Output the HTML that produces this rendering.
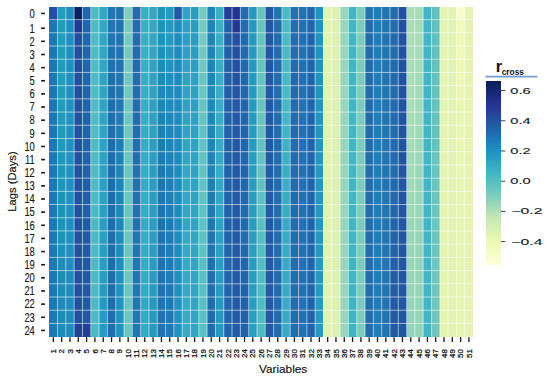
<!DOCTYPE html>
<html><head><meta charset="utf-8"><style>
html,body{margin:0;padding:0;background:#fff;}
body{width:550px;height:379px;overflow:hidden;position:relative;}
svg{position:absolute;left:0;top:0;}
text{font-family:"Liberation Sans",sans-serif;}
</style></head><body>
<svg width="550" height="379" viewBox="0 0 550 379">
<g shape-rendering="crispEdges">
<rect x="49.20" y="7.10" width="8.312" height="12.500" fill="#2350a1"/>
<rect x="49.20" y="19.60" width="8.312" height="13.210" fill="#2075b3"/>
<rect x="49.20" y="32.81" width="8.312" height="13.210" fill="#2075b3"/>
<rect x="49.20" y="46.02" width="8.312" height="13.210" fill="#2075b3"/>
<rect x="49.20" y="59.23" width="8.312" height="13.210" fill="#2075b3"/>
<rect x="49.20" y="72.44" width="8.312" height="13.210" fill="#2075b3"/>
<rect x="49.20" y="85.65" width="8.312" height="13.210" fill="#2075b3"/>
<rect x="49.20" y="98.86" width="8.312" height="13.210" fill="#2075b3"/>
<rect x="49.20" y="112.07" width="8.312" height="13.210" fill="#2075b3"/>
<rect x="49.20" y="125.28" width="8.312" height="13.210" fill="#2076b3"/>
<rect x="49.20" y="138.49" width="8.312" height="13.210" fill="#2076b3"/>
<rect x="49.20" y="151.70" width="8.312" height="13.210" fill="#1f78b4"/>
<rect x="49.20" y="164.91" width="8.312" height="13.210" fill="#1f78b4"/>
<rect x="49.20" y="178.12" width="8.312" height="13.210" fill="#1f78b4"/>
<rect x="49.20" y="191.33" width="8.312" height="13.210" fill="#1f78b4"/>
<rect x="49.20" y="204.54" width="8.312" height="13.210" fill="#1f78b4"/>
<rect x="49.20" y="217.75" width="8.312" height="13.210" fill="#1f78b4"/>
<rect x="49.20" y="230.96" width="8.312" height="13.210" fill="#1f78b4"/>
<rect x="49.20" y="244.17" width="8.312" height="13.210" fill="#1f78b4"/>
<rect x="49.20" y="257.38" width="8.312" height="13.210" fill="#1f78b4"/>
<rect x="49.20" y="270.59" width="8.312" height="13.210" fill="#1f78b4"/>
<rect x="49.20" y="283.80" width="8.312" height="13.210" fill="#1f78b4"/>
<rect x="49.20" y="297.01" width="8.312" height="13.210" fill="#1f78b4"/>
<rect x="49.20" y="310.22" width="8.312" height="13.210" fill="#1f78b4"/>
<rect x="49.20" y="323.43" width="8.312" height="13.210" fill="#1f78b4"/>
<rect x="57.51" y="7.10" width="8.312" height="12.500" fill="#259ac1"/>
<rect x="57.51" y="19.60" width="8.312" height="13.210" fill="#259ac1"/>
<rect x="57.51" y="32.81" width="8.312" height="13.210" fill="#259ac1"/>
<rect x="57.51" y="46.02" width="8.312" height="13.210" fill="#259ac1"/>
<rect x="57.51" y="59.23" width="8.312" height="13.210" fill="#259ac1"/>
<rect x="57.51" y="72.44" width="8.312" height="13.210" fill="#259ac1"/>
<rect x="57.51" y="85.65" width="8.312" height="13.210" fill="#259ac1"/>
<rect x="57.51" y="98.86" width="8.312" height="13.210" fill="#259ac1"/>
<rect x="57.51" y="112.07" width="8.312" height="13.210" fill="#2498c1"/>
<rect x="57.51" y="125.28" width="8.312" height="13.210" fill="#2397c1"/>
<rect x="57.51" y="138.49" width="8.312" height="13.210" fill="#2397c1"/>
<rect x="57.51" y="151.70" width="8.312" height="13.210" fill="#2296c1"/>
<rect x="57.51" y="164.91" width="8.312" height="13.210" fill="#2195c0"/>
<rect x="57.51" y="178.12" width="8.312" height="13.210" fill="#2094c0"/>
<rect x="57.51" y="191.33" width="8.312" height="13.210" fill="#1f93c0"/>
<rect x="57.51" y="204.54" width="8.312" height="13.210" fill="#1d91c0"/>
<rect x="57.51" y="217.75" width="8.312" height="13.210" fill="#1d91c0"/>
<rect x="57.51" y="230.96" width="8.312" height="13.210" fill="#1d90c0"/>
<rect x="57.51" y="244.17" width="8.312" height="13.210" fill="#1d8ebf"/>
<rect x="57.51" y="257.38" width="8.312" height="13.210" fill="#1d8dbe"/>
<rect x="57.51" y="270.59" width="8.312" height="13.210" fill="#1e8bbd"/>
<rect x="57.51" y="283.80" width="8.312" height="13.210" fill="#1e8abd"/>
<rect x="57.51" y="297.01" width="8.312" height="13.210" fill="#1e8abd"/>
<rect x="57.51" y="310.22" width="8.312" height="13.210" fill="#1e8abd"/>
<rect x="57.51" y="323.43" width="8.312" height="13.210" fill="#1e8abd"/>
<rect x="65.82" y="7.10" width="8.312" height="12.500" fill="#1d90c0"/>
<rect x="65.82" y="19.60" width="8.312" height="13.210" fill="#1d90c0"/>
<rect x="65.82" y="32.81" width="8.312" height="13.210" fill="#1d90c0"/>
<rect x="65.82" y="46.02" width="8.312" height="13.210" fill="#1d90c0"/>
<rect x="65.82" y="59.23" width="8.312" height="13.210" fill="#1d91c0"/>
<rect x="65.82" y="72.44" width="8.312" height="13.210" fill="#1d91c0"/>
<rect x="65.82" y="85.65" width="8.312" height="13.210" fill="#1d91c0"/>
<rect x="65.82" y="98.86" width="8.312" height="13.210" fill="#1f93c0"/>
<rect x="65.82" y="112.07" width="8.312" height="13.210" fill="#1f93c0"/>
<rect x="65.82" y="125.28" width="8.312" height="13.210" fill="#1f93c0"/>
<rect x="65.82" y="138.49" width="8.312" height="13.210" fill="#1f93c0"/>
<rect x="65.82" y="151.70" width="8.312" height="13.210" fill="#1f93c0"/>
<rect x="65.82" y="164.91" width="8.312" height="13.210" fill="#1f93c0"/>
<rect x="65.82" y="178.12" width="8.312" height="13.210" fill="#1d91c0"/>
<rect x="65.82" y="191.33" width="8.312" height="13.210" fill="#1d91c0"/>
<rect x="65.82" y="204.54" width="8.312" height="13.210" fill="#1d91c0"/>
<rect x="65.82" y="217.75" width="8.312" height="13.210" fill="#1d90c0"/>
<rect x="65.82" y="230.96" width="8.312" height="13.210" fill="#1d90c0"/>
<rect x="65.82" y="244.17" width="8.312" height="13.210" fill="#1d8ebf"/>
<rect x="65.82" y="257.38" width="8.312" height="13.210" fill="#1d8ebf"/>
<rect x="65.82" y="270.59" width="8.312" height="13.210" fill="#1d8dbe"/>
<rect x="65.82" y="283.80" width="8.312" height="13.210" fill="#1d8dbe"/>
<rect x="65.82" y="297.01" width="8.312" height="13.210" fill="#1d8dbe"/>
<rect x="65.82" y="310.22" width="8.312" height="13.210" fill="#1d8dbe"/>
<rect x="65.82" y="323.43" width="8.312" height="13.210" fill="#1d8dbe"/>
<rect x="74.14" y="7.10" width="8.312" height="12.500" fill="#0c2060"/>
<rect x="74.14" y="19.60" width="8.312" height="13.210" fill="#253795"/>
<rect x="74.14" y="32.81" width="8.312" height="13.210" fill="#234da0"/>
<rect x="74.14" y="46.02" width="8.312" height="13.210" fill="#234da0"/>
<rect x="74.14" y="59.23" width="8.312" height="13.210" fill="#234da0"/>
<rect x="74.14" y="72.44" width="8.312" height="13.210" fill="#234fa1"/>
<rect x="74.14" y="85.65" width="8.312" height="13.210" fill="#234fa1"/>
<rect x="74.14" y="98.86" width="8.312" height="13.210" fill="#2350a1"/>
<rect x="74.14" y="112.07" width="8.312" height="13.210" fill="#2350a1"/>
<rect x="74.14" y="125.28" width="8.312" height="13.210" fill="#2350a1"/>
<rect x="74.14" y="138.49" width="8.312" height="13.210" fill="#2350a1"/>
<rect x="74.14" y="151.70" width="8.312" height="13.210" fill="#2350a1"/>
<rect x="74.14" y="164.91" width="8.312" height="13.210" fill="#2350a1"/>
<rect x="74.14" y="178.12" width="8.312" height="13.210" fill="#2350a1"/>
<rect x="74.14" y="191.33" width="8.312" height="13.210" fill="#2350a1"/>
<rect x="74.14" y="204.54" width="8.312" height="13.210" fill="#2350a1"/>
<rect x="74.14" y="217.75" width="8.312" height="13.210" fill="#2350a1"/>
<rect x="74.14" y="230.96" width="8.312" height="13.210" fill="#2350a1"/>
<rect x="74.14" y="244.17" width="8.312" height="13.210" fill="#2350a1"/>
<rect x="74.14" y="257.38" width="8.312" height="13.210" fill="#2350a1"/>
<rect x="74.14" y="270.59" width="8.312" height="13.210" fill="#2350a1"/>
<rect x="74.14" y="283.80" width="8.312" height="13.210" fill="#2350a1"/>
<rect x="74.14" y="297.01" width="8.312" height="13.210" fill="#2350a1"/>
<rect x="74.14" y="310.22" width="8.312" height="13.210" fill="#2350a1"/>
<rect x="74.14" y="323.43" width="8.312" height="13.210" fill="#24419a"/>
<rect x="82.45" y="7.10" width="8.312" height="12.500" fill="#2166ac"/>
<rect x="82.45" y="19.60" width="8.312" height="13.210" fill="#2166ac"/>
<rect x="82.45" y="32.81" width="8.312" height="13.210" fill="#2166ac"/>
<rect x="82.45" y="46.02" width="8.312" height="13.210" fill="#2166ac"/>
<rect x="82.45" y="59.23" width="8.312" height="13.210" fill="#2166ac"/>
<rect x="82.45" y="72.44" width="8.312" height="13.210" fill="#2165ab"/>
<rect x="82.45" y="85.65" width="8.312" height="13.210" fill="#2165ab"/>
<rect x="82.45" y="98.86" width="8.312" height="13.210" fill="#2163aa"/>
<rect x="82.45" y="112.07" width="8.312" height="13.210" fill="#2163aa"/>
<rect x="82.45" y="125.28" width="8.312" height="13.210" fill="#2163aa"/>
<rect x="82.45" y="138.49" width="8.312" height="13.210" fill="#2262aa"/>
<rect x="82.45" y="151.70" width="8.312" height="13.210" fill="#2262aa"/>
<rect x="82.45" y="164.91" width="8.312" height="13.210" fill="#2260a9"/>
<rect x="82.45" y="178.12" width="8.312" height="13.210" fill="#225ea8"/>
<rect x="82.45" y="191.33" width="8.312" height="13.210" fill="#225ea8"/>
<rect x="82.45" y="204.54" width="8.312" height="13.210" fill="#225da8"/>
<rect x="82.45" y="217.75" width="8.312" height="13.210" fill="#225ca7"/>
<rect x="82.45" y="230.96" width="8.312" height="13.210" fill="#225aa6"/>
<rect x="82.45" y="244.17" width="8.312" height="13.210" fill="#225aa6"/>
<rect x="82.45" y="257.38" width="8.312" height="13.210" fill="#2259a6"/>
<rect x="82.45" y="270.59" width="8.312" height="13.210" fill="#2259a6"/>
<rect x="82.45" y="283.80" width="8.312" height="13.210" fill="#2258a5"/>
<rect x="82.45" y="297.01" width="8.312" height="13.210" fill="#2258a5"/>
<rect x="82.45" y="310.22" width="8.312" height="13.210" fill="#2258a5"/>
<rect x="82.45" y="323.43" width="8.312" height="13.210" fill="#243f99"/>
<rect x="90.76" y="7.10" width="8.312" height="12.500" fill="#50bbc2"/>
<rect x="90.76" y="19.60" width="8.312" height="13.210" fill="#50bbc2"/>
<rect x="90.76" y="32.81" width="8.312" height="13.210" fill="#50bbc2"/>
<rect x="90.76" y="46.02" width="8.312" height="13.210" fill="#50bbc2"/>
<rect x="90.76" y="59.23" width="8.312" height="13.210" fill="#50bbc2"/>
<rect x="90.76" y="72.44" width="8.312" height="13.210" fill="#50bbc2"/>
<rect x="90.76" y="85.65" width="8.312" height="13.210" fill="#50bbc2"/>
<rect x="90.76" y="98.86" width="8.312" height="13.210" fill="#50bbc2"/>
<rect x="90.76" y="112.07" width="8.312" height="13.210" fill="#50bbc2"/>
<rect x="90.76" y="125.28" width="8.312" height="13.210" fill="#50bbc2"/>
<rect x="90.76" y="138.49" width="8.312" height="13.210" fill="#50bbc2"/>
<rect x="90.76" y="151.70" width="8.312" height="13.210" fill="#50bbc2"/>
<rect x="90.76" y="164.91" width="8.312" height="13.210" fill="#50bbc2"/>
<rect x="90.76" y="178.12" width="8.312" height="13.210" fill="#4ebbc2"/>
<rect x="90.76" y="191.33" width="8.312" height="13.210" fill="#4ebbc2"/>
<rect x="90.76" y="204.54" width="8.312" height="13.210" fill="#4cbac2"/>
<rect x="90.76" y="217.75" width="8.312" height="13.210" fill="#4cbac2"/>
<rect x="90.76" y="230.96" width="8.312" height="13.210" fill="#4cbac2"/>
<rect x="90.76" y="244.17" width="8.312" height="13.210" fill="#4cbac2"/>
<rect x="90.76" y="257.38" width="8.312" height="13.210" fill="#4cbac2"/>
<rect x="90.76" y="270.59" width="8.312" height="13.210" fill="#4cbac2"/>
<rect x="90.76" y="283.80" width="8.312" height="13.210" fill="#4cbac2"/>
<rect x="90.76" y="297.01" width="8.312" height="13.210" fill="#4cbac2"/>
<rect x="90.76" y="310.22" width="8.312" height="13.210" fill="#4cbac2"/>
<rect x="90.76" y="323.43" width="8.312" height="13.210" fill="#4cbac2"/>
<rect x="99.07" y="7.10" width="8.312" height="12.500" fill="#32a6c2"/>
<rect x="99.07" y="19.60" width="8.312" height="13.210" fill="#32a6c2"/>
<rect x="99.07" y="32.81" width="8.312" height="13.210" fill="#32a6c2"/>
<rect x="99.07" y="46.02" width="8.312" height="13.210" fill="#31a5c2"/>
<rect x="99.07" y="59.23" width="8.312" height="13.210" fill="#31a5c2"/>
<rect x="99.07" y="72.44" width="8.312" height="13.210" fill="#2fa4c2"/>
<rect x="99.07" y="85.65" width="8.312" height="13.210" fill="#2fa4c2"/>
<rect x="99.07" y="98.86" width="8.312" height="13.210" fill="#2fa4c2"/>
<rect x="99.07" y="112.07" width="8.312" height="13.210" fill="#2ea3c2"/>
<rect x="99.07" y="125.28" width="8.312" height="13.210" fill="#2ea3c2"/>
<rect x="99.07" y="138.49" width="8.312" height="13.210" fill="#2da2c2"/>
<rect x="99.07" y="151.70" width="8.312" height="13.210" fill="#2da2c2"/>
<rect x="99.07" y="164.91" width="8.312" height="13.210" fill="#2ca1c2"/>
<rect x="99.07" y="178.12" width="8.312" height="13.210" fill="#2ca1c2"/>
<rect x="99.07" y="191.33" width="8.312" height="13.210" fill="#2ca1c2"/>
<rect x="99.07" y="204.54" width="8.312" height="13.210" fill="#2b9fc2"/>
<rect x="99.07" y="217.75" width="8.312" height="13.210" fill="#2b9fc2"/>
<rect x="99.07" y="230.96" width="8.312" height="13.210" fill="#2a9ec1"/>
<rect x="99.07" y="244.17" width="8.312" height="13.210" fill="#299dc1"/>
<rect x="99.07" y="257.38" width="8.312" height="13.210" fill="#299dc1"/>
<rect x="99.07" y="270.59" width="8.312" height="13.210" fill="#289cc1"/>
<rect x="99.07" y="283.80" width="8.312" height="13.210" fill="#269bc1"/>
<rect x="99.07" y="297.01" width="8.312" height="13.210" fill="#259ac1"/>
<rect x="99.07" y="310.22" width="8.312" height="13.210" fill="#259ac1"/>
<rect x="99.07" y="323.43" width="8.312" height="13.210" fill="#259ac1"/>
<rect x="107.38" y="7.10" width="8.312" height="12.500" fill="#1f78b4"/>
<rect x="107.38" y="19.60" width="8.312" height="13.210" fill="#2075b3"/>
<rect x="107.38" y="32.81" width="8.312" height="13.210" fill="#2075b3"/>
<rect x="107.38" y="46.02" width="8.312" height="13.210" fill="#2073b2"/>
<rect x="107.38" y="59.23" width="8.312" height="13.210" fill="#2072b1"/>
<rect x="107.38" y="72.44" width="8.312" height="13.210" fill="#2070b0"/>
<rect x="107.38" y="85.65" width="8.312" height="13.210" fill="#2070b0"/>
<rect x="107.38" y="98.86" width="8.312" height="13.210" fill="#206eb0"/>
<rect x="107.38" y="112.07" width="8.312" height="13.210" fill="#216daf"/>
<rect x="107.38" y="125.28" width="8.312" height="13.210" fill="#216daf"/>
<rect x="107.38" y="138.49" width="8.312" height="13.210" fill="#216bae"/>
<rect x="107.38" y="151.70" width="8.312" height="13.210" fill="#216bae"/>
<rect x="107.38" y="164.91" width="8.312" height="13.210" fill="#216bae"/>
<rect x="107.38" y="178.12" width="8.312" height="13.210" fill="#216bae"/>
<rect x="107.38" y="191.33" width="8.312" height="13.210" fill="#216bae"/>
<rect x="107.38" y="204.54" width="8.312" height="13.210" fill="#216bae"/>
<rect x="107.38" y="217.75" width="8.312" height="13.210" fill="#216bae"/>
<rect x="107.38" y="230.96" width="8.312" height="13.210" fill="#216bae"/>
<rect x="107.38" y="244.17" width="8.312" height="13.210" fill="#216bae"/>
<rect x="107.38" y="257.38" width="8.312" height="13.210" fill="#216bae"/>
<rect x="107.38" y="270.59" width="8.312" height="13.210" fill="#216bae"/>
<rect x="107.38" y="283.80" width="8.312" height="13.210" fill="#216bae"/>
<rect x="107.38" y="297.01" width="8.312" height="13.210" fill="#216bae"/>
<rect x="107.38" y="310.22" width="8.312" height="13.210" fill="#216bae"/>
<rect x="107.38" y="323.43" width="8.312" height="13.210" fill="#216bae"/>
<rect x="115.69" y="7.10" width="8.312" height="12.500" fill="#2072b1"/>
<rect x="115.69" y="19.60" width="8.312" height="13.210" fill="#2072b1"/>
<rect x="115.69" y="32.81" width="8.312" height="13.210" fill="#2072b1"/>
<rect x="115.69" y="46.02" width="8.312" height="13.210" fill="#2073b2"/>
<rect x="115.69" y="59.23" width="8.312" height="13.210" fill="#2073b2"/>
<rect x="115.69" y="72.44" width="8.312" height="13.210" fill="#2075b3"/>
<rect x="115.69" y="85.65" width="8.312" height="13.210" fill="#2076b3"/>
<rect x="115.69" y="98.86" width="8.312" height="13.210" fill="#1f78b4"/>
<rect x="115.69" y="112.07" width="8.312" height="13.210" fill="#1f7ab5"/>
<rect x="115.69" y="125.28" width="8.312" height="13.210" fill="#1f7db6"/>
<rect x="115.69" y="138.49" width="8.312" height="13.210" fill="#1f7eb7"/>
<rect x="115.69" y="151.70" width="8.312" height="13.210" fill="#1f80b8"/>
<rect x="115.69" y="164.91" width="8.312" height="13.210" fill="#1f82b9"/>
<rect x="115.69" y="178.12" width="8.312" height="13.210" fill="#1e83ba"/>
<rect x="115.69" y="191.33" width="8.312" height="13.210" fill="#1e85ba"/>
<rect x="115.69" y="204.54" width="8.312" height="13.210" fill="#1e86bb"/>
<rect x="115.69" y="217.75" width="8.312" height="13.210" fill="#1e88bc"/>
<rect x="115.69" y="230.96" width="8.312" height="13.210" fill="#1e8abd"/>
<rect x="115.69" y="244.17" width="8.312" height="13.210" fill="#1e8bbd"/>
<rect x="115.69" y="257.38" width="8.312" height="13.210" fill="#1d8dbe"/>
<rect x="115.69" y="270.59" width="8.312" height="13.210" fill="#1d8ebf"/>
<rect x="115.69" y="283.80" width="8.312" height="13.210" fill="#1d91c0"/>
<rect x="115.69" y="297.01" width="8.312" height="13.210" fill="#1f93c0"/>
<rect x="115.69" y="310.22" width="8.312" height="13.210" fill="#1f93c0"/>
<rect x="115.69" y="323.43" width="8.312" height="13.210" fill="#1f93c0"/>
<rect x="124.01" y="7.10" width="8.312" height="12.500" fill="#80cebb"/>
<rect x="124.01" y="19.60" width="8.312" height="13.210" fill="#78cbbc"/>
<rect x="124.01" y="32.81" width="8.312" height="13.210" fill="#78cbbc"/>
<rect x="124.01" y="46.02" width="8.312" height="13.210" fill="#76cabc"/>
<rect x="124.01" y="59.23" width="8.312" height="13.210" fill="#75c9bd"/>
<rect x="124.01" y="72.44" width="8.312" height="13.210" fill="#73c8bd"/>
<rect x="124.01" y="85.65" width="8.312" height="13.210" fill="#71c8bd"/>
<rect x="124.01" y="98.86" width="8.312" height="13.210" fill="#6fc7bd"/>
<rect x="124.01" y="112.07" width="8.312" height="13.210" fill="#6fc7bd"/>
<rect x="124.01" y="125.28" width="8.312" height="13.210" fill="#6fc7bd"/>
<rect x="124.01" y="138.49" width="8.312" height="13.210" fill="#6dc6be"/>
<rect x="124.01" y="151.70" width="8.312" height="13.210" fill="#6dc6be"/>
<rect x="124.01" y="164.91" width="8.312" height="13.210" fill="#6bc6be"/>
<rect x="124.01" y="178.12" width="8.312" height="13.210" fill="#6bc6be"/>
<rect x="124.01" y="191.33" width="8.312" height="13.210" fill="#6bc6be"/>
<rect x="124.01" y="204.54" width="8.312" height="13.210" fill="#6bc6be"/>
<rect x="124.01" y="217.75" width="8.312" height="13.210" fill="#6bc6be"/>
<rect x="124.01" y="230.96" width="8.312" height="13.210" fill="#6bc6be"/>
<rect x="124.01" y="244.17" width="8.312" height="13.210" fill="#6bc6be"/>
<rect x="124.01" y="257.38" width="8.312" height="13.210" fill="#6bc6be"/>
<rect x="124.01" y="270.59" width="8.312" height="13.210" fill="#6bc6be"/>
<rect x="124.01" y="283.80" width="8.312" height="13.210" fill="#6bc6be"/>
<rect x="124.01" y="297.01" width="8.312" height="13.210" fill="#6bc6be"/>
<rect x="124.01" y="310.22" width="8.312" height="13.210" fill="#6bc6be"/>
<rect x="124.01" y="323.43" width="8.312" height="13.210" fill="#6bc6be"/>
<rect x="132.32" y="7.10" width="8.312" height="12.500" fill="#216bae"/>
<rect x="132.32" y="19.60" width="8.312" height="13.210" fill="#216bae"/>
<rect x="132.32" y="32.81" width="8.312" height="13.210" fill="#216bae"/>
<rect x="132.32" y="46.02" width="8.312" height="13.210" fill="#216bae"/>
<rect x="132.32" y="59.23" width="8.312" height="13.210" fill="#216bae"/>
<rect x="132.32" y="72.44" width="8.312" height="13.210" fill="#216daf"/>
<rect x="132.32" y="85.65" width="8.312" height="13.210" fill="#216daf"/>
<rect x="132.32" y="98.86" width="8.312" height="13.210" fill="#206eb0"/>
<rect x="132.32" y="112.07" width="8.312" height="13.210" fill="#206eb0"/>
<rect x="132.32" y="125.28" width="8.312" height="13.210" fill="#2070b0"/>
<rect x="132.32" y="138.49" width="8.312" height="13.210" fill="#2070b0"/>
<rect x="132.32" y="151.70" width="8.312" height="13.210" fill="#2070b0"/>
<rect x="132.32" y="164.91" width="8.312" height="13.210" fill="#2072b1"/>
<rect x="132.32" y="178.12" width="8.312" height="13.210" fill="#2072b1"/>
<rect x="132.32" y="191.33" width="8.312" height="13.210" fill="#2073b2"/>
<rect x="132.32" y="204.54" width="8.312" height="13.210" fill="#2073b2"/>
<rect x="132.32" y="217.75" width="8.312" height="13.210" fill="#2073b2"/>
<rect x="132.32" y="230.96" width="8.312" height="13.210" fill="#2075b3"/>
<rect x="132.32" y="244.17" width="8.312" height="13.210" fill="#2075b3"/>
<rect x="132.32" y="257.38" width="8.312" height="13.210" fill="#2076b3"/>
<rect x="132.32" y="270.59" width="8.312" height="13.210" fill="#2076b3"/>
<rect x="132.32" y="283.80" width="8.312" height="13.210" fill="#1f78b4"/>
<rect x="132.32" y="297.01" width="8.312" height="13.210" fill="#1f78b4"/>
<rect x="132.32" y="310.22" width="8.312" height="13.210" fill="#1f78b4"/>
<rect x="132.32" y="323.43" width="8.312" height="13.210" fill="#1f78b4"/>
<rect x="140.63" y="7.10" width="8.312" height="12.500" fill="#3bb0c3"/>
<rect x="140.63" y="19.60" width="8.312" height="13.210" fill="#3bb0c3"/>
<rect x="140.63" y="32.81" width="8.312" height="13.210" fill="#3bb0c3"/>
<rect x="140.63" y="46.02" width="8.312" height="13.210" fill="#3bb0c3"/>
<rect x="140.63" y="59.23" width="8.312" height="13.210" fill="#3aaec3"/>
<rect x="140.63" y="72.44" width="8.312" height="13.210" fill="#3aaec3"/>
<rect x="140.63" y="85.65" width="8.312" height="13.210" fill="#39adc3"/>
<rect x="140.63" y="98.86" width="8.312" height="13.210" fill="#39adc3"/>
<rect x="140.63" y="112.07" width="8.312" height="13.210" fill="#39adc3"/>
<rect x="140.63" y="125.28" width="8.312" height="13.210" fill="#37acc3"/>
<rect x="140.63" y="138.49" width="8.312" height="13.210" fill="#37acc3"/>
<rect x="140.63" y="151.70" width="8.312" height="13.210" fill="#36abc3"/>
<rect x="140.63" y="164.91" width="8.312" height="13.210" fill="#36abc3"/>
<rect x="140.63" y="178.12" width="8.312" height="13.210" fill="#36abc3"/>
<rect x="140.63" y="191.33" width="8.312" height="13.210" fill="#36abc3"/>
<rect x="140.63" y="204.54" width="8.312" height="13.210" fill="#36abc3"/>
<rect x="140.63" y="217.75" width="8.312" height="13.210" fill="#36abc3"/>
<rect x="140.63" y="230.96" width="8.312" height="13.210" fill="#36abc3"/>
<rect x="140.63" y="244.17" width="8.312" height="13.210" fill="#35aac3"/>
<rect x="140.63" y="257.38" width="8.312" height="13.210" fill="#35aac3"/>
<rect x="140.63" y="270.59" width="8.312" height="13.210" fill="#35aac3"/>
<rect x="140.63" y="283.80" width="8.312" height="13.210" fill="#34a9c3"/>
<rect x="140.63" y="297.01" width="8.312" height="13.210" fill="#34a9c3"/>
<rect x="140.63" y="310.22" width="8.312" height="13.210" fill="#34a9c3"/>
<rect x="140.63" y="323.43" width="8.312" height="13.210" fill="#34a9c3"/>
<rect x="148.94" y="7.10" width="8.312" height="12.500" fill="#32a6c2"/>
<rect x="148.94" y="19.60" width="8.312" height="13.210" fill="#32a6c2"/>
<rect x="148.94" y="32.81" width="8.312" height="13.210" fill="#32a6c2"/>
<rect x="148.94" y="46.02" width="8.312" height="13.210" fill="#31a5c2"/>
<rect x="148.94" y="59.23" width="8.312" height="13.210" fill="#2fa4c2"/>
<rect x="148.94" y="72.44" width="8.312" height="13.210" fill="#2ea3c2"/>
<rect x="148.94" y="85.65" width="8.312" height="13.210" fill="#2da2c2"/>
<rect x="148.94" y="98.86" width="8.312" height="13.210" fill="#2ca1c2"/>
<rect x="148.94" y="112.07" width="8.312" height="13.210" fill="#2ca1c2"/>
<rect x="148.94" y="125.28" width="8.312" height="13.210" fill="#2ca1c2"/>
<rect x="148.94" y="138.49" width="8.312" height="13.210" fill="#2b9fc2"/>
<rect x="148.94" y="151.70" width="8.312" height="13.210" fill="#2b9fc2"/>
<rect x="148.94" y="164.91" width="8.312" height="13.210" fill="#2a9ec1"/>
<rect x="148.94" y="178.12" width="8.312" height="13.210" fill="#2a9ec1"/>
<rect x="148.94" y="191.33" width="8.312" height="13.210" fill="#2a9ec1"/>
<rect x="148.94" y="204.54" width="8.312" height="13.210" fill="#2a9ec1"/>
<rect x="148.94" y="217.75" width="8.312" height="13.210" fill="#2a9ec1"/>
<rect x="148.94" y="230.96" width="8.312" height="13.210" fill="#2a9ec1"/>
<rect x="148.94" y="244.17" width="8.312" height="13.210" fill="#299dc1"/>
<rect x="148.94" y="257.38" width="8.312" height="13.210" fill="#299dc1"/>
<rect x="148.94" y="270.59" width="8.312" height="13.210" fill="#289cc1"/>
<rect x="148.94" y="283.80" width="8.312" height="13.210" fill="#269bc1"/>
<rect x="148.94" y="297.01" width="8.312" height="13.210" fill="#259ac1"/>
<rect x="148.94" y="310.22" width="8.312" height="13.210" fill="#259ac1"/>
<rect x="148.94" y="323.43" width="8.312" height="13.210" fill="#259ac1"/>
<rect x="157.25" y="7.10" width="8.312" height="12.500" fill="#1f93c0"/>
<rect x="157.25" y="19.60" width="8.312" height="13.210" fill="#1f93c0"/>
<rect x="157.25" y="32.81" width="8.312" height="13.210" fill="#1f93c0"/>
<rect x="157.25" y="46.02" width="8.312" height="13.210" fill="#1d90c0"/>
<rect x="157.25" y="59.23" width="8.312" height="13.210" fill="#1d8dbe"/>
<rect x="157.25" y="72.44" width="8.312" height="13.210" fill="#1e8bbd"/>
<rect x="157.25" y="85.65" width="8.312" height="13.210" fill="#1e88bc"/>
<rect x="157.25" y="98.86" width="8.312" height="13.210" fill="#1e85ba"/>
<rect x="157.25" y="112.07" width="8.312" height="13.210" fill="#1e83ba"/>
<rect x="157.25" y="125.28" width="8.312" height="13.210" fill="#1f80b8"/>
<rect x="157.25" y="138.49" width="8.312" height="13.210" fill="#1f7db6"/>
<rect x="157.25" y="151.70" width="8.312" height="13.210" fill="#1f7bb6"/>
<rect x="157.25" y="164.91" width="8.312" height="13.210" fill="#1f78b4"/>
<rect x="157.25" y="178.12" width="8.312" height="13.210" fill="#2076b3"/>
<rect x="157.25" y="191.33" width="8.312" height="13.210" fill="#2075b3"/>
<rect x="157.25" y="204.54" width="8.312" height="13.210" fill="#2073b2"/>
<rect x="157.25" y="217.75" width="8.312" height="13.210" fill="#2073b2"/>
<rect x="157.25" y="230.96" width="8.312" height="13.210" fill="#2072b1"/>
<rect x="157.25" y="244.17" width="8.312" height="13.210" fill="#2072b1"/>
<rect x="157.25" y="257.38" width="8.312" height="13.210" fill="#2072b1"/>
<rect x="157.25" y="270.59" width="8.312" height="13.210" fill="#2072b1"/>
<rect x="157.25" y="283.80" width="8.312" height="13.210" fill="#2072b1"/>
<rect x="157.25" y="297.01" width="8.312" height="13.210" fill="#2072b1"/>
<rect x="157.25" y="310.22" width="8.312" height="13.210" fill="#2072b1"/>
<rect x="157.25" y="323.43" width="8.312" height="13.210" fill="#2072b1"/>
<rect x="165.56" y="7.10" width="8.312" height="12.500" fill="#259ac1"/>
<rect x="165.56" y="19.60" width="8.312" height="13.210" fill="#259ac1"/>
<rect x="165.56" y="32.81" width="8.312" height="13.210" fill="#259ac1"/>
<rect x="165.56" y="46.02" width="8.312" height="13.210" fill="#2397c1"/>
<rect x="165.56" y="59.23" width="8.312" height="13.210" fill="#2094c0"/>
<rect x="165.56" y="72.44" width="8.312" height="13.210" fill="#1d91c0"/>
<rect x="165.56" y="85.65" width="8.312" height="13.210" fill="#1d8dbe"/>
<rect x="165.56" y="98.86" width="8.312" height="13.210" fill="#1e8abd"/>
<rect x="165.56" y="112.07" width="8.312" height="13.210" fill="#1e88bc"/>
<rect x="165.56" y="125.28" width="8.312" height="13.210" fill="#1e86bb"/>
<rect x="165.56" y="138.49" width="8.312" height="13.210" fill="#1e85ba"/>
<rect x="165.56" y="151.70" width="8.312" height="13.210" fill="#1e83ba"/>
<rect x="165.56" y="164.91" width="8.312" height="13.210" fill="#1f82b9"/>
<rect x="165.56" y="178.12" width="8.312" height="13.210" fill="#1f80b8"/>
<rect x="165.56" y="191.33" width="8.312" height="13.210" fill="#1f80b8"/>
<rect x="165.56" y="204.54" width="8.312" height="13.210" fill="#1f7eb7"/>
<rect x="165.56" y="217.75" width="8.312" height="13.210" fill="#1f7db6"/>
<rect x="165.56" y="230.96" width="8.312" height="13.210" fill="#1f7bb6"/>
<rect x="165.56" y="244.17" width="8.312" height="13.210" fill="#1f7bb6"/>
<rect x="165.56" y="257.38" width="8.312" height="13.210" fill="#1f7ab5"/>
<rect x="165.56" y="270.59" width="8.312" height="13.210" fill="#1f7ab5"/>
<rect x="165.56" y="283.80" width="8.312" height="13.210" fill="#1f78b4"/>
<rect x="165.56" y="297.01" width="8.312" height="13.210" fill="#1f78b4"/>
<rect x="165.56" y="310.22" width="8.312" height="13.210" fill="#1f78b4"/>
<rect x="165.56" y="323.43" width="8.312" height="13.210" fill="#1f78b4"/>
<rect x="173.88" y="7.10" width="8.312" height="12.500" fill="#2258a5"/>
<rect x="173.88" y="19.60" width="8.312" height="13.210" fill="#1d8dbe"/>
<rect x="173.88" y="32.81" width="8.312" height="13.210" fill="#1d8dbe"/>
<rect x="173.88" y="46.02" width="8.312" height="13.210" fill="#1e8bbd"/>
<rect x="173.88" y="59.23" width="8.312" height="13.210" fill="#1e8bbd"/>
<rect x="173.88" y="72.44" width="8.312" height="13.210" fill="#1e8abd"/>
<rect x="173.88" y="85.65" width="8.312" height="13.210" fill="#1e8abd"/>
<rect x="173.88" y="98.86" width="8.312" height="13.210" fill="#1e8abd"/>
<rect x="173.88" y="112.07" width="8.312" height="13.210" fill="#1e8abd"/>
<rect x="173.88" y="125.28" width="8.312" height="13.210" fill="#1e8abd"/>
<rect x="173.88" y="138.49" width="8.312" height="13.210" fill="#1e8bbd"/>
<rect x="173.88" y="151.70" width="8.312" height="13.210" fill="#1e8bbd"/>
<rect x="173.88" y="164.91" width="8.312" height="13.210" fill="#1d8dbe"/>
<rect x="173.88" y="178.12" width="8.312" height="13.210" fill="#1d8dbe"/>
<rect x="173.88" y="191.33" width="8.312" height="13.210" fill="#1d8dbe"/>
<rect x="173.88" y="204.54" width="8.312" height="13.210" fill="#1d8dbe"/>
<rect x="173.88" y="217.75" width="8.312" height="13.210" fill="#1d8dbe"/>
<rect x="173.88" y="230.96" width="8.312" height="13.210" fill="#1d8dbe"/>
<rect x="173.88" y="244.17" width="8.312" height="13.210" fill="#1d8dbe"/>
<rect x="173.88" y="257.38" width="8.312" height="13.210" fill="#1d8ebf"/>
<rect x="173.88" y="270.59" width="8.312" height="13.210" fill="#1d90c0"/>
<rect x="173.88" y="283.80" width="8.312" height="13.210" fill="#1d91c0"/>
<rect x="173.88" y="297.01" width="8.312" height="13.210" fill="#1f93c0"/>
<rect x="173.88" y="310.22" width="8.312" height="13.210" fill="#1f93c0"/>
<rect x="173.88" y="323.43" width="8.312" height="13.210" fill="#1f93c0"/>
<rect x="182.19" y="7.10" width="8.312" height="12.500" fill="#2fa4c2"/>
<rect x="182.19" y="19.60" width="8.312" height="13.210" fill="#2ca1c2"/>
<rect x="182.19" y="32.81" width="8.312" height="13.210" fill="#2ca1c2"/>
<rect x="182.19" y="46.02" width="8.312" height="13.210" fill="#2da2c2"/>
<rect x="182.19" y="59.23" width="8.312" height="13.210" fill="#2da2c2"/>
<rect x="182.19" y="72.44" width="8.312" height="13.210" fill="#2ea3c2"/>
<rect x="182.19" y="85.65" width="8.312" height="13.210" fill="#2ea3c2"/>
<rect x="182.19" y="98.86" width="8.312" height="13.210" fill="#2fa4c2"/>
<rect x="182.19" y="112.07" width="8.312" height="13.210" fill="#2fa4c2"/>
<rect x="182.19" y="125.28" width="8.312" height="13.210" fill="#2fa4c2"/>
<rect x="182.19" y="138.49" width="8.312" height="13.210" fill="#31a5c2"/>
<rect x="182.19" y="151.70" width="8.312" height="13.210" fill="#31a5c2"/>
<rect x="182.19" y="164.91" width="8.312" height="13.210" fill="#32a6c2"/>
<rect x="182.19" y="178.12" width="8.312" height="13.210" fill="#32a6c2"/>
<rect x="182.19" y="191.33" width="8.312" height="13.210" fill="#32a6c2"/>
<rect x="182.19" y="204.54" width="8.312" height="13.210" fill="#33a7c2"/>
<rect x="182.19" y="217.75" width="8.312" height="13.210" fill="#33a7c2"/>
<rect x="182.19" y="230.96" width="8.312" height="13.210" fill="#34a9c3"/>
<rect x="182.19" y="244.17" width="8.312" height="13.210" fill="#34a9c3"/>
<rect x="182.19" y="257.38" width="8.312" height="13.210" fill="#35aac3"/>
<rect x="182.19" y="270.59" width="8.312" height="13.210" fill="#35aac3"/>
<rect x="182.19" y="283.80" width="8.312" height="13.210" fill="#35aac3"/>
<rect x="182.19" y="297.01" width="8.312" height="13.210" fill="#36abc3"/>
<rect x="182.19" y="310.22" width="8.312" height="13.210" fill="#36abc3"/>
<rect x="182.19" y="323.43" width="8.312" height="13.210" fill="#36abc3"/>
<rect x="190.50" y="7.10" width="8.312" height="12.500" fill="#2a9ec1"/>
<rect x="190.50" y="19.60" width="8.312" height="13.210" fill="#2a9ec1"/>
<rect x="190.50" y="32.81" width="8.312" height="13.210" fill="#2a9ec1"/>
<rect x="190.50" y="46.02" width="8.312" height="13.210" fill="#2b9fc2"/>
<rect x="190.50" y="59.23" width="8.312" height="13.210" fill="#2b9fc2"/>
<rect x="190.50" y="72.44" width="8.312" height="13.210" fill="#2ca1c2"/>
<rect x="190.50" y="85.65" width="8.312" height="13.210" fill="#2ca1c2"/>
<rect x="190.50" y="98.86" width="8.312" height="13.210" fill="#2ca1c2"/>
<rect x="190.50" y="112.07" width="8.312" height="13.210" fill="#2da2c2"/>
<rect x="190.50" y="125.28" width="8.312" height="13.210" fill="#2da2c2"/>
<rect x="190.50" y="138.49" width="8.312" height="13.210" fill="#2ea3c2"/>
<rect x="190.50" y="151.70" width="8.312" height="13.210" fill="#2ea3c2"/>
<rect x="190.50" y="164.91" width="8.312" height="13.210" fill="#2fa4c2"/>
<rect x="190.50" y="178.12" width="8.312" height="13.210" fill="#2fa4c2"/>
<rect x="190.50" y="191.33" width="8.312" height="13.210" fill="#2fa4c2"/>
<rect x="190.50" y="204.54" width="8.312" height="13.210" fill="#31a5c2"/>
<rect x="190.50" y="217.75" width="8.312" height="13.210" fill="#31a5c2"/>
<rect x="190.50" y="230.96" width="8.312" height="13.210" fill="#32a6c2"/>
<rect x="190.50" y="244.17" width="8.312" height="13.210" fill="#32a6c2"/>
<rect x="190.50" y="257.38" width="8.312" height="13.210" fill="#32a6c2"/>
<rect x="190.50" y="270.59" width="8.312" height="13.210" fill="#32a6c2"/>
<rect x="190.50" y="283.80" width="8.312" height="13.210" fill="#32a6c2"/>
<rect x="190.50" y="297.01" width="8.312" height="13.210" fill="#32a6c2"/>
<rect x="190.50" y="310.22" width="8.312" height="13.210" fill="#32a6c2"/>
<rect x="190.50" y="323.43" width="8.312" height="13.210" fill="#32a6c2"/>
<rect x="198.81" y="7.10" width="8.312" height="12.500" fill="#75c9bd"/>
<rect x="198.81" y="19.60" width="8.312" height="13.210" fill="#75c9bd"/>
<rect x="198.81" y="32.81" width="8.312" height="13.210" fill="#75c9bd"/>
<rect x="198.81" y="46.02" width="8.312" height="13.210" fill="#71c8bd"/>
<rect x="198.81" y="59.23" width="8.312" height="13.210" fill="#6fc7bd"/>
<rect x="198.81" y="72.44" width="8.312" height="13.210" fill="#6dc6be"/>
<rect x="198.81" y="85.65" width="8.312" height="13.210" fill="#6bc6be"/>
<rect x="198.81" y="98.86" width="8.312" height="13.210" fill="#67c4be"/>
<rect x="198.81" y="112.07" width="8.312" height="13.210" fill="#67c4be"/>
<rect x="198.81" y="125.28" width="8.312" height="13.210" fill="#65c3bf"/>
<rect x="198.81" y="138.49" width="8.312" height="13.210" fill="#65c3bf"/>
<rect x="198.81" y="151.70" width="8.312" height="13.210" fill="#65c3bf"/>
<rect x="198.81" y="164.91" width="8.312" height="13.210" fill="#63c3bf"/>
<rect x="198.81" y="178.12" width="8.312" height="13.210" fill="#63c3bf"/>
<rect x="198.81" y="191.33" width="8.312" height="13.210" fill="#61c2bf"/>
<rect x="198.81" y="204.54" width="8.312" height="13.210" fill="#61c2bf"/>
<rect x="198.81" y="217.75" width="8.312" height="13.210" fill="#5fc1c0"/>
<rect x="198.81" y="230.96" width="8.312" height="13.210" fill="#5fc1c0"/>
<rect x="198.81" y="244.17" width="8.312" height="13.210" fill="#5fc1c0"/>
<rect x="198.81" y="257.38" width="8.312" height="13.210" fill="#5dc0c0"/>
<rect x="198.81" y="270.59" width="8.312" height="13.210" fill="#5dc0c0"/>
<rect x="198.81" y="283.80" width="8.312" height="13.210" fill="#5bc0c0"/>
<rect x="198.81" y="297.01" width="8.312" height="13.210" fill="#5bc0c0"/>
<rect x="198.81" y="310.22" width="8.312" height="13.210" fill="#5bc0c0"/>
<rect x="198.81" y="323.43" width="8.312" height="13.210" fill="#5bc0c0"/>
<rect x="207.12" y="7.10" width="8.312" height="12.500" fill="#1f82b9"/>
<rect x="207.12" y="19.60" width="8.312" height="13.210" fill="#1f82b9"/>
<rect x="207.12" y="32.81" width="8.312" height="13.210" fill="#1f82b9"/>
<rect x="207.12" y="46.02" width="8.312" height="13.210" fill="#1e83ba"/>
<rect x="207.12" y="59.23" width="8.312" height="13.210" fill="#1e85ba"/>
<rect x="207.12" y="72.44" width="8.312" height="13.210" fill="#1e86bb"/>
<rect x="207.12" y="85.65" width="8.312" height="13.210" fill="#1e88bc"/>
<rect x="207.12" y="98.86" width="8.312" height="13.210" fill="#1e8abd"/>
<rect x="207.12" y="112.07" width="8.312" height="13.210" fill="#1e88bc"/>
<rect x="207.12" y="125.28" width="8.312" height="13.210" fill="#1e86bb"/>
<rect x="207.12" y="138.49" width="8.312" height="13.210" fill="#1e85ba"/>
<rect x="207.12" y="151.70" width="8.312" height="13.210" fill="#1e83ba"/>
<rect x="207.12" y="164.91" width="8.312" height="13.210" fill="#1f82b9"/>
<rect x="207.12" y="178.12" width="8.312" height="13.210" fill="#1f80b8"/>
<rect x="207.12" y="191.33" width="8.312" height="13.210" fill="#1f7db6"/>
<rect x="207.12" y="204.54" width="8.312" height="13.210" fill="#1f7ab5"/>
<rect x="207.12" y="217.75" width="8.312" height="13.210" fill="#1f78b4"/>
<rect x="207.12" y="230.96" width="8.312" height="13.210" fill="#2075b3"/>
<rect x="207.12" y="244.17" width="8.312" height="13.210" fill="#2073b2"/>
<rect x="207.12" y="257.38" width="8.312" height="13.210" fill="#2070b0"/>
<rect x="207.12" y="270.59" width="8.312" height="13.210" fill="#206eb0"/>
<rect x="207.12" y="283.80" width="8.312" height="13.210" fill="#216daf"/>
<rect x="207.12" y="297.01" width="8.312" height="13.210" fill="#216bae"/>
<rect x="207.12" y="310.22" width="8.312" height="13.210" fill="#216bae"/>
<rect x="207.12" y="323.43" width="8.312" height="13.210" fill="#216bae"/>
<rect x="215.44" y="7.10" width="8.312" height="12.500" fill="#3bb0c3"/>
<rect x="215.44" y="19.60" width="8.312" height="13.210" fill="#3bb0c3"/>
<rect x="215.44" y="32.81" width="8.312" height="13.210" fill="#3bb0c3"/>
<rect x="215.44" y="46.02" width="8.312" height="13.210" fill="#3bb0c3"/>
<rect x="215.44" y="59.23" width="8.312" height="13.210" fill="#3aaec3"/>
<rect x="215.44" y="72.44" width="8.312" height="13.210" fill="#3aaec3"/>
<rect x="215.44" y="85.65" width="8.312" height="13.210" fill="#39adc3"/>
<rect x="215.44" y="98.86" width="8.312" height="13.210" fill="#39adc3"/>
<rect x="215.44" y="112.07" width="8.312" height="13.210" fill="#39adc3"/>
<rect x="215.44" y="125.28" width="8.312" height="13.210" fill="#37acc3"/>
<rect x="215.44" y="138.49" width="8.312" height="13.210" fill="#37acc3"/>
<rect x="215.44" y="151.70" width="8.312" height="13.210" fill="#36abc3"/>
<rect x="215.44" y="164.91" width="8.312" height="13.210" fill="#36abc3"/>
<rect x="215.44" y="178.12" width="8.312" height="13.210" fill="#34a9c3"/>
<rect x="215.44" y="191.33" width="8.312" height="13.210" fill="#32a6c2"/>
<rect x="215.44" y="204.54" width="8.312" height="13.210" fill="#31a5c2"/>
<rect x="215.44" y="217.75" width="8.312" height="13.210" fill="#2ea3c2"/>
<rect x="215.44" y="230.96" width="8.312" height="13.210" fill="#2ca1c2"/>
<rect x="215.44" y="244.17" width="8.312" height="13.210" fill="#2b9fc2"/>
<rect x="215.44" y="257.38" width="8.312" height="13.210" fill="#2a9ec1"/>
<rect x="215.44" y="270.59" width="8.312" height="13.210" fill="#299dc1"/>
<rect x="215.44" y="283.80" width="8.312" height="13.210" fill="#269bc1"/>
<rect x="215.44" y="297.01" width="8.312" height="13.210" fill="#259ac1"/>
<rect x="215.44" y="310.22" width="8.312" height="13.210" fill="#259ac1"/>
<rect x="215.44" y="323.43" width="8.312" height="13.210" fill="#259ac1"/>
<rect x="223.75" y="7.10" width="8.312" height="12.500" fill="#243f99"/>
<rect x="223.75" y="19.60" width="8.312" height="13.210" fill="#2260a9"/>
<rect x="223.75" y="32.81" width="8.312" height="13.210" fill="#2260a9"/>
<rect x="223.75" y="46.02" width="8.312" height="13.210" fill="#2260a9"/>
<rect x="223.75" y="59.23" width="8.312" height="13.210" fill="#2260a9"/>
<rect x="223.75" y="72.44" width="8.312" height="13.210" fill="#2260a9"/>
<rect x="223.75" y="85.65" width="8.312" height="13.210" fill="#2260a9"/>
<rect x="223.75" y="98.86" width="8.312" height="13.210" fill="#2260a9"/>
<rect x="223.75" y="112.07" width="8.312" height="13.210" fill="#2262aa"/>
<rect x="223.75" y="125.28" width="8.312" height="13.210" fill="#2262aa"/>
<rect x="223.75" y="138.49" width="8.312" height="13.210" fill="#2163aa"/>
<rect x="223.75" y="151.70" width="8.312" height="13.210" fill="#2163aa"/>
<rect x="223.75" y="164.91" width="8.312" height="13.210" fill="#2163aa"/>
<rect x="223.75" y="178.12" width="8.312" height="13.210" fill="#2163aa"/>
<rect x="223.75" y="191.33" width="8.312" height="13.210" fill="#2163aa"/>
<rect x="223.75" y="204.54" width="8.312" height="13.210" fill="#2163aa"/>
<rect x="223.75" y="217.75" width="8.312" height="13.210" fill="#2163aa"/>
<rect x="223.75" y="230.96" width="8.312" height="13.210" fill="#2163aa"/>
<rect x="223.75" y="244.17" width="8.312" height="13.210" fill="#2165ab"/>
<rect x="223.75" y="257.38" width="8.312" height="13.210" fill="#2165ab"/>
<rect x="223.75" y="270.59" width="8.312" height="13.210" fill="#2166ac"/>
<rect x="223.75" y="283.80" width="8.312" height="13.210" fill="#2166ac"/>
<rect x="223.75" y="297.01" width="8.312" height="13.210" fill="#2166ac"/>
<rect x="223.75" y="310.22" width="8.312" height="13.210" fill="#2166ac"/>
<rect x="223.75" y="323.43" width="8.312" height="13.210" fill="#2166ac"/>
<rect x="232.06" y="7.10" width="8.312" height="12.500" fill="#233390"/>
<rect x="232.06" y="19.60" width="8.312" height="13.210" fill="#253795"/>
<rect x="232.06" y="32.81" width="8.312" height="13.210" fill="#2350a1"/>
<rect x="232.06" y="46.02" width="8.312" height="13.210" fill="#2350a1"/>
<rect x="232.06" y="59.23" width="8.312" height="13.210" fill="#2352a3"/>
<rect x="232.06" y="72.44" width="8.312" height="13.210" fill="#2354a3"/>
<rect x="232.06" y="85.65" width="8.312" height="13.210" fill="#2356a4"/>
<rect x="232.06" y="98.86" width="8.312" height="13.210" fill="#2258a5"/>
<rect x="232.06" y="112.07" width="8.312" height="13.210" fill="#2258a5"/>
<rect x="232.06" y="125.28" width="8.312" height="13.210" fill="#2259a6"/>
<rect x="232.06" y="138.49" width="8.312" height="13.210" fill="#2259a6"/>
<rect x="232.06" y="151.70" width="8.312" height="13.210" fill="#225aa6"/>
<rect x="232.06" y="164.91" width="8.312" height="13.210" fill="#225aa6"/>
<rect x="232.06" y="178.12" width="8.312" height="13.210" fill="#225aa6"/>
<rect x="232.06" y="191.33" width="8.312" height="13.210" fill="#225aa6"/>
<rect x="232.06" y="204.54" width="8.312" height="13.210" fill="#225aa6"/>
<rect x="232.06" y="217.75" width="8.312" height="13.210" fill="#225aa6"/>
<rect x="232.06" y="230.96" width="8.312" height="13.210" fill="#225aa6"/>
<rect x="232.06" y="244.17" width="8.312" height="13.210" fill="#225aa6"/>
<rect x="232.06" y="257.38" width="8.312" height="13.210" fill="#225aa6"/>
<rect x="232.06" y="270.59" width="8.312" height="13.210" fill="#225aa6"/>
<rect x="232.06" y="283.80" width="8.312" height="13.210" fill="#225aa6"/>
<rect x="232.06" y="297.01" width="8.312" height="13.210" fill="#225aa6"/>
<rect x="232.06" y="310.22" width="8.312" height="13.210" fill="#225aa6"/>
<rect x="232.06" y="323.43" width="8.312" height="13.210" fill="#225aa6"/>
<rect x="240.37" y="7.10" width="8.312" height="12.500" fill="#216bae"/>
<rect x="240.37" y="19.60" width="8.312" height="13.210" fill="#216bae"/>
<rect x="240.37" y="32.81" width="8.312" height="13.210" fill="#216bae"/>
<rect x="240.37" y="46.02" width="8.312" height="13.210" fill="#216aad"/>
<rect x="240.37" y="59.23" width="8.312" height="13.210" fill="#216aad"/>
<rect x="240.37" y="72.44" width="8.312" height="13.210" fill="#2168ad"/>
<rect x="240.37" y="85.65" width="8.312" height="13.210" fill="#2168ad"/>
<rect x="240.37" y="98.86" width="8.312" height="13.210" fill="#2166ac"/>
<rect x="240.37" y="112.07" width="8.312" height="13.210" fill="#2166ac"/>
<rect x="240.37" y="125.28" width="8.312" height="13.210" fill="#2166ac"/>
<rect x="240.37" y="138.49" width="8.312" height="13.210" fill="#2166ac"/>
<rect x="240.37" y="151.70" width="8.312" height="13.210" fill="#2166ac"/>
<rect x="240.37" y="164.91" width="8.312" height="13.210" fill="#2166ac"/>
<rect x="240.37" y="178.12" width="8.312" height="13.210" fill="#2168ad"/>
<rect x="240.37" y="191.33" width="8.312" height="13.210" fill="#2168ad"/>
<rect x="240.37" y="204.54" width="8.312" height="13.210" fill="#216aad"/>
<rect x="240.37" y="217.75" width="8.312" height="13.210" fill="#216aad"/>
<rect x="240.37" y="230.96" width="8.312" height="13.210" fill="#216bae"/>
<rect x="240.37" y="244.17" width="8.312" height="13.210" fill="#2168ad"/>
<rect x="240.37" y="257.38" width="8.312" height="13.210" fill="#2166ac"/>
<rect x="240.37" y="270.59" width="8.312" height="13.210" fill="#2165ab"/>
<rect x="240.37" y="283.80" width="8.312" height="13.210" fill="#2163aa"/>
<rect x="240.37" y="297.01" width="8.312" height="13.210" fill="#2260a9"/>
<rect x="240.37" y="310.22" width="8.312" height="13.210" fill="#2260a9"/>
<rect x="240.37" y="323.43" width="8.312" height="13.210" fill="#2260a9"/>
<rect x="248.68" y="7.10" width="8.312" height="12.500" fill="#259ac1"/>
<rect x="248.68" y="19.60" width="8.312" height="13.210" fill="#259ac1"/>
<rect x="248.68" y="32.81" width="8.312" height="13.210" fill="#259ac1"/>
<rect x="248.68" y="46.02" width="8.312" height="13.210" fill="#259ac1"/>
<rect x="248.68" y="59.23" width="8.312" height="13.210" fill="#259ac1"/>
<rect x="248.68" y="72.44" width="8.312" height="13.210" fill="#259ac1"/>
<rect x="248.68" y="85.65" width="8.312" height="13.210" fill="#259ac1"/>
<rect x="248.68" y="98.86" width="8.312" height="13.210" fill="#259ac1"/>
<rect x="248.68" y="112.07" width="8.312" height="13.210" fill="#269bc1"/>
<rect x="248.68" y="125.28" width="8.312" height="13.210" fill="#269bc1"/>
<rect x="248.68" y="138.49" width="8.312" height="13.210" fill="#269bc1"/>
<rect x="248.68" y="151.70" width="8.312" height="13.210" fill="#289cc1"/>
<rect x="248.68" y="164.91" width="8.312" height="13.210" fill="#289cc1"/>
<rect x="248.68" y="178.12" width="8.312" height="13.210" fill="#289cc1"/>
<rect x="248.68" y="191.33" width="8.312" height="13.210" fill="#289cc1"/>
<rect x="248.68" y="204.54" width="8.312" height="13.210" fill="#289cc1"/>
<rect x="248.68" y="217.75" width="8.312" height="13.210" fill="#289cc1"/>
<rect x="248.68" y="230.96" width="8.312" height="13.210" fill="#289cc1"/>
<rect x="248.68" y="244.17" width="8.312" height="13.210" fill="#299dc1"/>
<rect x="248.68" y="257.38" width="8.312" height="13.210" fill="#299dc1"/>
<rect x="248.68" y="270.59" width="8.312" height="13.210" fill="#299dc1"/>
<rect x="248.68" y="283.80" width="8.312" height="13.210" fill="#2a9ec1"/>
<rect x="248.68" y="297.01" width="8.312" height="13.210" fill="#2a9ec1"/>
<rect x="248.68" y="310.22" width="8.312" height="13.210" fill="#2a9ec1"/>
<rect x="248.68" y="323.43" width="8.312" height="13.210" fill="#2a9ec1"/>
<rect x="256.99" y="7.10" width="8.312" height="12.500" fill="#67c4be"/>
<rect x="256.99" y="19.60" width="8.312" height="13.210" fill="#67c4be"/>
<rect x="256.99" y="32.81" width="8.312" height="13.210" fill="#67c4be"/>
<rect x="256.99" y="46.02" width="8.312" height="13.210" fill="#67c4be"/>
<rect x="256.99" y="59.23" width="8.312" height="13.210" fill="#67c4be"/>
<rect x="256.99" y="72.44" width="8.312" height="13.210" fill="#67c4be"/>
<rect x="256.99" y="85.65" width="8.312" height="13.210" fill="#67c4be"/>
<rect x="256.99" y="98.86" width="8.312" height="13.210" fill="#67c4be"/>
<rect x="256.99" y="112.07" width="8.312" height="13.210" fill="#67c4be"/>
<rect x="256.99" y="125.28" width="8.312" height="13.210" fill="#65c3bf"/>
<rect x="256.99" y="138.49" width="8.312" height="13.210" fill="#65c3bf"/>
<rect x="256.99" y="151.70" width="8.312" height="13.210" fill="#65c3bf"/>
<rect x="256.99" y="164.91" width="8.312" height="13.210" fill="#63c3bf"/>
<rect x="256.99" y="178.12" width="8.312" height="13.210" fill="#61c2bf"/>
<rect x="256.99" y="191.33" width="8.312" height="13.210" fill="#5fc1c0"/>
<rect x="256.99" y="204.54" width="8.312" height="13.210" fill="#5bc0c0"/>
<rect x="256.99" y="217.75" width="8.312" height="13.210" fill="#59bfc0"/>
<rect x="256.99" y="230.96" width="8.312" height="13.210" fill="#57bec1"/>
<rect x="256.99" y="244.17" width="8.312" height="13.210" fill="#55bec1"/>
<rect x="256.99" y="257.38" width="8.312" height="13.210" fill="#53bdc1"/>
<rect x="256.99" y="270.59" width="8.312" height="13.210" fill="#52bcc2"/>
<rect x="256.99" y="283.80" width="8.312" height="13.210" fill="#50bbc2"/>
<rect x="256.99" y="297.01" width="8.312" height="13.210" fill="#50bbc2"/>
<rect x="256.99" y="310.22" width="8.312" height="13.210" fill="#50bbc2"/>
<rect x="256.99" y="323.43" width="8.312" height="13.210" fill="#50bbc2"/>
<rect x="265.31" y="7.10" width="8.312" height="12.500" fill="#2355a4"/>
<rect x="265.31" y="19.60" width="8.312" height="13.210" fill="#2355a4"/>
<rect x="265.31" y="32.81" width="8.312" height="13.210" fill="#2355a4"/>
<rect x="265.31" y="46.02" width="8.312" height="13.210" fill="#2355a4"/>
<rect x="265.31" y="59.23" width="8.312" height="13.210" fill="#2356a4"/>
<rect x="265.31" y="72.44" width="8.312" height="13.210" fill="#2356a4"/>
<rect x="265.31" y="85.65" width="8.312" height="13.210" fill="#2258a5"/>
<rect x="265.31" y="98.86" width="8.312" height="13.210" fill="#2258a5"/>
<rect x="265.31" y="112.07" width="8.312" height="13.210" fill="#2258a5"/>
<rect x="265.31" y="125.28" width="8.312" height="13.210" fill="#2259a6"/>
<rect x="265.31" y="138.49" width="8.312" height="13.210" fill="#2259a6"/>
<rect x="265.31" y="151.70" width="8.312" height="13.210" fill="#225aa6"/>
<rect x="265.31" y="164.91" width="8.312" height="13.210" fill="#225aa6"/>
<rect x="265.31" y="178.12" width="8.312" height="13.210" fill="#225aa6"/>
<rect x="265.31" y="191.33" width="8.312" height="13.210" fill="#225aa6"/>
<rect x="265.31" y="204.54" width="8.312" height="13.210" fill="#225aa6"/>
<rect x="265.31" y="217.75" width="8.312" height="13.210" fill="#225aa6"/>
<rect x="265.31" y="230.96" width="8.312" height="13.210" fill="#225aa6"/>
<rect x="265.31" y="244.17" width="8.312" height="13.210" fill="#225aa6"/>
<rect x="265.31" y="257.38" width="8.312" height="13.210" fill="#225aa6"/>
<rect x="265.31" y="270.59" width="8.312" height="13.210" fill="#225aa6"/>
<rect x="265.31" y="283.80" width="8.312" height="13.210" fill="#225aa6"/>
<rect x="265.31" y="297.01" width="8.312" height="13.210" fill="#225aa6"/>
<rect x="265.31" y="310.22" width="8.312" height="13.210" fill="#225aa6"/>
<rect x="265.31" y="323.43" width="8.312" height="13.210" fill="#225aa6"/>
<rect x="273.62" y="7.10" width="8.312" height="12.500" fill="#2075b3"/>
<rect x="273.62" y="19.60" width="8.312" height="13.210" fill="#206eb0"/>
<rect x="273.62" y="32.81" width="8.312" height="13.210" fill="#206eb0"/>
<rect x="273.62" y="46.02" width="8.312" height="13.210" fill="#206eb0"/>
<rect x="273.62" y="59.23" width="8.312" height="13.210" fill="#206eb0"/>
<rect x="273.62" y="72.44" width="8.312" height="13.210" fill="#206eb0"/>
<rect x="273.62" y="85.65" width="8.312" height="13.210" fill="#206eb0"/>
<rect x="273.62" y="98.86" width="8.312" height="13.210" fill="#206eb0"/>
<rect x="273.62" y="112.07" width="8.312" height="13.210" fill="#206eb0"/>
<rect x="273.62" y="125.28" width="8.312" height="13.210" fill="#206eb0"/>
<rect x="273.62" y="138.49" width="8.312" height="13.210" fill="#206eb0"/>
<rect x="273.62" y="151.70" width="8.312" height="13.210" fill="#206eb0"/>
<rect x="273.62" y="164.91" width="8.312" height="13.210" fill="#206eb0"/>
<rect x="273.62" y="178.12" width="8.312" height="13.210" fill="#206eb0"/>
<rect x="273.62" y="191.33" width="8.312" height="13.210" fill="#206eb0"/>
<rect x="273.62" y="204.54" width="8.312" height="13.210" fill="#206eb0"/>
<rect x="273.62" y="217.75" width="8.312" height="13.210" fill="#206eb0"/>
<rect x="273.62" y="230.96" width="8.312" height="13.210" fill="#206eb0"/>
<rect x="273.62" y="244.17" width="8.312" height="13.210" fill="#216daf"/>
<rect x="273.62" y="257.38" width="8.312" height="13.210" fill="#216daf"/>
<rect x="273.62" y="270.59" width="8.312" height="13.210" fill="#216bae"/>
<rect x="273.62" y="283.80" width="8.312" height="13.210" fill="#216bae"/>
<rect x="273.62" y="297.01" width="8.312" height="13.210" fill="#216bae"/>
<rect x="273.62" y="310.22" width="8.312" height="13.210" fill="#216bae"/>
<rect x="273.62" y="323.43" width="8.312" height="13.210" fill="#216bae"/>
<rect x="281.93" y="7.10" width="8.312" height="12.500" fill="#4cbac2"/>
<rect x="281.93" y="19.60" width="8.312" height="13.210" fill="#4cbac2"/>
<rect x="281.93" y="32.81" width="8.312" height="13.210" fill="#4cbac2"/>
<rect x="281.93" y="46.02" width="8.312" height="13.210" fill="#4ab9c3"/>
<rect x="281.93" y="59.23" width="8.312" height="13.210" fill="#4ab9c3"/>
<rect x="281.93" y="72.44" width="8.312" height="13.210" fill="#48b9c3"/>
<rect x="281.93" y="85.65" width="8.312" height="13.210" fill="#48b9c3"/>
<rect x="281.93" y="98.86" width="8.312" height="13.210" fill="#46b8c3"/>
<rect x="281.93" y="112.07" width="8.312" height="13.210" fill="#42b6c4"/>
<rect x="281.93" y="125.28" width="8.312" height="13.210" fill="#3fb4c4"/>
<rect x="281.93" y="138.49" width="8.312" height="13.210" fill="#3db2c4"/>
<rect x="281.93" y="151.70" width="8.312" height="13.210" fill="#3bb0c3"/>
<rect x="281.93" y="164.91" width="8.312" height="13.210" fill="#39adc3"/>
<rect x="281.93" y="178.12" width="8.312" height="13.210" fill="#39adc3"/>
<rect x="281.93" y="191.33" width="8.312" height="13.210" fill="#37acc3"/>
<rect x="281.93" y="204.54" width="8.312" height="13.210" fill="#37acc3"/>
<rect x="281.93" y="217.75" width="8.312" height="13.210" fill="#36abc3"/>
<rect x="281.93" y="230.96" width="8.312" height="13.210" fill="#36abc3"/>
<rect x="281.93" y="244.17" width="8.312" height="13.210" fill="#36abc3"/>
<rect x="281.93" y="257.38" width="8.312" height="13.210" fill="#36abc3"/>
<rect x="281.93" y="270.59" width="8.312" height="13.210" fill="#36abc3"/>
<rect x="281.93" y="283.80" width="8.312" height="13.210" fill="#36abc3"/>
<rect x="281.93" y="297.01" width="8.312" height="13.210" fill="#36abc3"/>
<rect x="281.93" y="310.22" width="8.312" height="13.210" fill="#36abc3"/>
<rect x="281.93" y="323.43" width="8.312" height="13.210" fill="#36abc3"/>
<rect x="290.24" y="7.10" width="8.312" height="12.500" fill="#2072b1"/>
<rect x="290.24" y="19.60" width="8.312" height="13.210" fill="#206eb0"/>
<rect x="290.24" y="32.81" width="8.312" height="13.210" fill="#206eb0"/>
<rect x="290.24" y="46.02" width="8.312" height="13.210" fill="#216daf"/>
<rect x="290.24" y="59.23" width="8.312" height="13.210" fill="#216daf"/>
<rect x="290.24" y="72.44" width="8.312" height="13.210" fill="#216bae"/>
<rect x="290.24" y="85.65" width="8.312" height="13.210" fill="#216bae"/>
<rect x="290.24" y="98.86" width="8.312" height="13.210" fill="#216bae"/>
<rect x="290.24" y="112.07" width="8.312" height="13.210" fill="#216bae"/>
<rect x="290.24" y="125.28" width="8.312" height="13.210" fill="#216bae"/>
<rect x="290.24" y="138.49" width="8.312" height="13.210" fill="#216bae"/>
<rect x="290.24" y="151.70" width="8.312" height="13.210" fill="#216bae"/>
<rect x="290.24" y="164.91" width="8.312" height="13.210" fill="#216bae"/>
<rect x="290.24" y="178.12" width="8.312" height="13.210" fill="#216bae"/>
<rect x="290.24" y="191.33" width="8.312" height="13.210" fill="#216bae"/>
<rect x="290.24" y="204.54" width="8.312" height="13.210" fill="#216bae"/>
<rect x="290.24" y="217.75" width="8.312" height="13.210" fill="#216bae"/>
<rect x="290.24" y="230.96" width="8.312" height="13.210" fill="#216bae"/>
<rect x="290.24" y="244.17" width="8.312" height="13.210" fill="#216bae"/>
<rect x="290.24" y="257.38" width="8.312" height="13.210" fill="#216bae"/>
<rect x="290.24" y="270.59" width="8.312" height="13.210" fill="#216bae"/>
<rect x="290.24" y="283.80" width="8.312" height="13.210" fill="#216bae"/>
<rect x="290.24" y="297.01" width="8.312" height="13.210" fill="#216bae"/>
<rect x="290.24" y="310.22" width="8.312" height="13.210" fill="#216bae"/>
<rect x="290.24" y="323.43" width="8.312" height="13.210" fill="#216bae"/>
<rect x="298.55" y="7.10" width="8.312" height="12.500" fill="#2072b1"/>
<rect x="298.55" y="19.60" width="8.312" height="13.210" fill="#2072b1"/>
<rect x="298.55" y="32.81" width="8.312" height="13.210" fill="#2072b1"/>
<rect x="298.55" y="46.02" width="8.312" height="13.210" fill="#2072b1"/>
<rect x="298.55" y="59.23" width="8.312" height="13.210" fill="#2072b1"/>
<rect x="298.55" y="72.44" width="8.312" height="13.210" fill="#2072b1"/>
<rect x="298.55" y="85.65" width="8.312" height="13.210" fill="#2072b1"/>
<rect x="298.55" y="98.86" width="8.312" height="13.210" fill="#2072b1"/>
<rect x="298.55" y="112.07" width="8.312" height="13.210" fill="#2072b1"/>
<rect x="298.55" y="125.28" width="8.312" height="13.210" fill="#2072b1"/>
<rect x="298.55" y="138.49" width="8.312" height="13.210" fill="#2072b1"/>
<rect x="298.55" y="151.70" width="8.312" height="13.210" fill="#2072b1"/>
<rect x="298.55" y="164.91" width="8.312" height="13.210" fill="#2072b1"/>
<rect x="298.55" y="178.12" width="8.312" height="13.210" fill="#2072b1"/>
<rect x="298.55" y="191.33" width="8.312" height="13.210" fill="#2072b1"/>
<rect x="298.55" y="204.54" width="8.312" height="13.210" fill="#2072b1"/>
<rect x="298.55" y="217.75" width="8.312" height="13.210" fill="#2072b1"/>
<rect x="298.55" y="230.96" width="8.312" height="13.210" fill="#2072b1"/>
<rect x="298.55" y="244.17" width="8.312" height="13.210" fill="#2072b1"/>
<rect x="298.55" y="257.38" width="8.312" height="13.210" fill="#2072b1"/>
<rect x="298.55" y="270.59" width="8.312" height="13.210" fill="#2072b1"/>
<rect x="298.55" y="283.80" width="8.312" height="13.210" fill="#2072b1"/>
<rect x="298.55" y="297.01" width="8.312" height="13.210" fill="#2072b1"/>
<rect x="298.55" y="310.22" width="8.312" height="13.210" fill="#2072b1"/>
<rect x="298.55" y="323.43" width="8.312" height="13.210" fill="#2072b1"/>
<rect x="306.86" y="7.10" width="8.312" height="12.500" fill="#2166ac"/>
<rect x="306.86" y="19.60" width="8.312" height="13.210" fill="#2166ac"/>
<rect x="306.86" y="32.81" width="8.312" height="13.210" fill="#2166ac"/>
<rect x="306.86" y="46.02" width="8.312" height="13.210" fill="#2166ac"/>
<rect x="306.86" y="59.23" width="8.312" height="13.210" fill="#2166ac"/>
<rect x="306.86" y="72.44" width="8.312" height="13.210" fill="#2166ac"/>
<rect x="306.86" y="85.65" width="8.312" height="13.210" fill="#2166ac"/>
<rect x="306.86" y="98.86" width="8.312" height="13.210" fill="#2166ac"/>
<rect x="306.86" y="112.07" width="8.312" height="13.210" fill="#2166ac"/>
<rect x="306.86" y="125.28" width="8.312" height="13.210" fill="#2166ac"/>
<rect x="306.86" y="138.49" width="8.312" height="13.210" fill="#2166ac"/>
<rect x="306.86" y="151.70" width="8.312" height="13.210" fill="#2166ac"/>
<rect x="306.86" y="164.91" width="8.312" height="13.210" fill="#2166ac"/>
<rect x="306.86" y="178.12" width="8.312" height="13.210" fill="#2166ac"/>
<rect x="306.86" y="191.33" width="8.312" height="13.210" fill="#2166ac"/>
<rect x="306.86" y="204.54" width="8.312" height="13.210" fill="#2166ac"/>
<rect x="306.86" y="217.75" width="8.312" height="13.210" fill="#2166ac"/>
<rect x="306.86" y="230.96" width="8.312" height="13.210" fill="#2166ac"/>
<rect x="306.86" y="244.17" width="8.312" height="13.210" fill="#2166ac"/>
<rect x="306.86" y="257.38" width="8.312" height="13.210" fill="#2166ac"/>
<rect x="306.86" y="270.59" width="8.312" height="13.210" fill="#2165ab"/>
<rect x="306.86" y="283.80" width="8.312" height="13.210" fill="#2165ab"/>
<rect x="306.86" y="297.01" width="8.312" height="13.210" fill="#2163aa"/>
<rect x="306.86" y="310.22" width="8.312" height="13.210" fill="#2163aa"/>
<rect x="306.86" y="323.43" width="8.312" height="13.210" fill="#2163aa"/>
<rect x="315.18" y="7.10" width="8.312" height="12.500" fill="#1f93c0"/>
<rect x="315.18" y="19.60" width="8.312" height="13.210" fill="#1f93c0"/>
<rect x="315.18" y="32.81" width="8.312" height="13.210" fill="#1f93c0"/>
<rect x="315.18" y="46.02" width="8.312" height="13.210" fill="#1f93c0"/>
<rect x="315.18" y="59.23" width="8.312" height="13.210" fill="#2094c0"/>
<rect x="315.18" y="72.44" width="8.312" height="13.210" fill="#2094c0"/>
<rect x="315.18" y="85.65" width="8.312" height="13.210" fill="#2094c0"/>
<rect x="315.18" y="98.86" width="8.312" height="13.210" fill="#2195c0"/>
<rect x="315.18" y="112.07" width="8.312" height="13.210" fill="#2195c0"/>
<rect x="315.18" y="125.28" width="8.312" height="13.210" fill="#2296c1"/>
<rect x="315.18" y="138.49" width="8.312" height="13.210" fill="#2296c1"/>
<rect x="315.18" y="151.70" width="8.312" height="13.210" fill="#2397c1"/>
<rect x="315.18" y="164.91" width="8.312" height="13.210" fill="#2397c1"/>
<rect x="315.18" y="178.12" width="8.312" height="13.210" fill="#2397c1"/>
<rect x="315.18" y="191.33" width="8.312" height="13.210" fill="#2397c1"/>
<rect x="315.18" y="204.54" width="8.312" height="13.210" fill="#2397c1"/>
<rect x="315.18" y="217.75" width="8.312" height="13.210" fill="#2397c1"/>
<rect x="315.18" y="230.96" width="8.312" height="13.210" fill="#2397c1"/>
<rect x="315.18" y="244.17" width="8.312" height="13.210" fill="#2397c1"/>
<rect x="315.18" y="257.38" width="8.312" height="13.210" fill="#2498c1"/>
<rect x="315.18" y="270.59" width="8.312" height="13.210" fill="#2498c1"/>
<rect x="315.18" y="283.80" width="8.312" height="13.210" fill="#259ac1"/>
<rect x="315.18" y="297.01" width="8.312" height="13.210" fill="#259ac1"/>
<rect x="315.18" y="310.22" width="8.312" height="13.210" fill="#259ac1"/>
<rect x="315.18" y="323.43" width="8.312" height="13.210" fill="#259ac1"/>
<rect x="323.49" y="7.10" width="8.312" height="12.500" fill="#e1f3b2"/>
<rect x="323.49" y="19.60" width="8.312" height="13.210" fill="#e1f3b2"/>
<rect x="323.49" y="32.81" width="8.312" height="13.210" fill="#e1f3b2"/>
<rect x="323.49" y="46.02" width="8.312" height="13.210" fill="#e1f3b2"/>
<rect x="323.49" y="59.23" width="8.312" height="13.210" fill="#e1f3b2"/>
<rect x="323.49" y="72.44" width="8.312" height="13.210" fill="#e1f3b2"/>
<rect x="323.49" y="85.65" width="8.312" height="13.210" fill="#e1f3b2"/>
<rect x="323.49" y="98.86" width="8.312" height="13.210" fill="#e1f3b2"/>
<rect x="323.49" y="112.07" width="8.312" height="13.210" fill="#e1f3b2"/>
<rect x="323.49" y="125.28" width="8.312" height="13.210" fill="#e1f3b2"/>
<rect x="323.49" y="138.49" width="8.312" height="13.210" fill="#e1f3b2"/>
<rect x="323.49" y="151.70" width="8.312" height="13.210" fill="#e1f3b2"/>
<rect x="323.49" y="164.91" width="8.312" height="13.210" fill="#e1f3b2"/>
<rect x="323.49" y="178.12" width="8.312" height="13.210" fill="#e1f3b2"/>
<rect x="323.49" y="191.33" width="8.312" height="13.210" fill="#e1f3b2"/>
<rect x="323.49" y="204.54" width="8.312" height="13.210" fill="#e1f3b2"/>
<rect x="323.49" y="217.75" width="8.312" height="13.210" fill="#e1f3b2"/>
<rect x="323.49" y="230.96" width="8.312" height="13.210" fill="#e1f3b2"/>
<rect x="323.49" y="244.17" width="8.312" height="13.210" fill="#e1f3b2"/>
<rect x="323.49" y="257.38" width="8.312" height="13.210" fill="#e1f3b2"/>
<rect x="323.49" y="270.59" width="8.312" height="13.210" fill="#e1f3b2"/>
<rect x="323.49" y="283.80" width="8.312" height="13.210" fill="#e1f3b2"/>
<rect x="323.49" y="297.01" width="8.312" height="13.210" fill="#e1f3b2"/>
<rect x="323.49" y="310.22" width="8.312" height="13.210" fill="#e1f3b2"/>
<rect x="323.49" y="323.43" width="8.312" height="13.210" fill="#e1f3b2"/>
<rect x="331.80" y="7.10" width="8.312" height="12.500" fill="#ddf2b2"/>
<rect x="331.80" y="19.60" width="8.312" height="13.210" fill="#ddf2b2"/>
<rect x="331.80" y="32.81" width="8.312" height="13.210" fill="#ddf2b2"/>
<rect x="331.80" y="46.02" width="8.312" height="13.210" fill="#ddf2b2"/>
<rect x="331.80" y="59.23" width="8.312" height="13.210" fill="#ddf2b2"/>
<rect x="331.80" y="72.44" width="8.312" height="13.210" fill="#ddf2b2"/>
<rect x="331.80" y="85.65" width="8.312" height="13.210" fill="#ddf2b2"/>
<rect x="331.80" y="98.86" width="8.312" height="13.210" fill="#ddf2b2"/>
<rect x="331.80" y="112.07" width="8.312" height="13.210" fill="#ddf2b2"/>
<rect x="331.80" y="125.28" width="8.312" height="13.210" fill="#ddf2b2"/>
<rect x="331.80" y="138.49" width="8.312" height="13.210" fill="#ddf2b2"/>
<rect x="331.80" y="151.70" width="8.312" height="13.210" fill="#ddf2b2"/>
<rect x="331.80" y="164.91" width="8.312" height="13.210" fill="#ddf2b2"/>
<rect x="331.80" y="178.12" width="8.312" height="13.210" fill="#ddf2b2"/>
<rect x="331.80" y="191.33" width="8.312" height="13.210" fill="#ddf2b2"/>
<rect x="331.80" y="204.54" width="8.312" height="13.210" fill="#ddf2b2"/>
<rect x="331.80" y="217.75" width="8.312" height="13.210" fill="#ddf2b2"/>
<rect x="331.80" y="230.96" width="8.312" height="13.210" fill="#ddf2b2"/>
<rect x="331.80" y="244.17" width="8.312" height="13.210" fill="#ddf2b2"/>
<rect x="331.80" y="257.38" width="8.312" height="13.210" fill="#ddf2b2"/>
<rect x="331.80" y="270.59" width="8.312" height="13.210" fill="#ddf2b2"/>
<rect x="331.80" y="283.80" width="8.312" height="13.210" fill="#ddf2b2"/>
<rect x="331.80" y="297.01" width="8.312" height="13.210" fill="#ddf2b2"/>
<rect x="331.80" y="310.22" width="8.312" height="13.210" fill="#ddf2b2"/>
<rect x="331.80" y="323.43" width="8.312" height="13.210" fill="#ddf2b2"/>
<rect x="340.11" y="7.10" width="8.312" height="12.500" fill="#97d6b9"/>
<rect x="340.11" y="19.60" width="8.312" height="13.210" fill="#97d6b9"/>
<rect x="340.11" y="32.81" width="8.312" height="13.210" fill="#97d6b9"/>
<rect x="340.11" y="46.02" width="8.312" height="13.210" fill="#97d6b9"/>
<rect x="340.11" y="59.23" width="8.312" height="13.210" fill="#97d6b9"/>
<rect x="340.11" y="72.44" width="8.312" height="13.210" fill="#97d6b9"/>
<rect x="340.11" y="85.65" width="8.312" height="13.210" fill="#97d6b9"/>
<rect x="340.11" y="98.86" width="8.312" height="13.210" fill="#97d6b9"/>
<rect x="340.11" y="112.07" width="8.312" height="13.210" fill="#97d6b9"/>
<rect x="340.11" y="125.28" width="8.312" height="13.210" fill="#97d6b9"/>
<rect x="340.11" y="138.49" width="8.312" height="13.210" fill="#97d6b9"/>
<rect x="340.11" y="151.70" width="8.312" height="13.210" fill="#97d6b9"/>
<rect x="340.11" y="164.91" width="8.312" height="13.210" fill="#97d6b9"/>
<rect x="340.11" y="178.12" width="8.312" height="13.210" fill="#97d6b9"/>
<rect x="340.11" y="191.33" width="8.312" height="13.210" fill="#97d6b9"/>
<rect x="340.11" y="204.54" width="8.312" height="13.210" fill="#97d6b9"/>
<rect x="340.11" y="217.75" width="8.312" height="13.210" fill="#97d6b9"/>
<rect x="340.11" y="230.96" width="8.312" height="13.210" fill="#97d6b9"/>
<rect x="340.11" y="244.17" width="8.312" height="13.210" fill="#97d6b9"/>
<rect x="340.11" y="257.38" width="8.312" height="13.210" fill="#97d6b9"/>
<rect x="340.11" y="270.59" width="8.312" height="13.210" fill="#97d6b9"/>
<rect x="340.11" y="283.80" width="8.312" height="13.210" fill="#97d6b9"/>
<rect x="340.11" y="297.01" width="8.312" height="13.210" fill="#97d6b9"/>
<rect x="340.11" y="310.22" width="8.312" height="13.210" fill="#97d6b9"/>
<rect x="340.11" y="323.43" width="8.312" height="13.210" fill="#97d6b9"/>
<rect x="348.42" y="7.10" width="8.312" height="12.500" fill="#42b6c4"/>
<rect x="348.42" y="19.60" width="8.312" height="13.210" fill="#42b6c4"/>
<rect x="348.42" y="32.81" width="8.312" height="13.210" fill="#42b6c4"/>
<rect x="348.42" y="46.02" width="8.312" height="13.210" fill="#42b6c4"/>
<rect x="348.42" y="59.23" width="8.312" height="13.210" fill="#42b6c4"/>
<rect x="348.42" y="72.44" width="8.312" height="13.210" fill="#42b6c4"/>
<rect x="348.42" y="85.65" width="8.312" height="13.210" fill="#42b6c4"/>
<rect x="348.42" y="98.86" width="8.312" height="13.210" fill="#42b6c4"/>
<rect x="348.42" y="112.07" width="8.312" height="13.210" fill="#44b7c4"/>
<rect x="348.42" y="125.28" width="8.312" height="13.210" fill="#44b7c4"/>
<rect x="348.42" y="138.49" width="8.312" height="13.210" fill="#44b7c4"/>
<rect x="348.42" y="151.70" width="8.312" height="13.210" fill="#44b7c4"/>
<rect x="348.42" y="164.91" width="8.312" height="13.210" fill="#44b7c4"/>
<rect x="348.42" y="178.12" width="8.312" height="13.210" fill="#44b7c4"/>
<rect x="348.42" y="191.33" width="8.312" height="13.210" fill="#44b7c4"/>
<rect x="348.42" y="204.54" width="8.312" height="13.210" fill="#42b6c4"/>
<rect x="348.42" y="217.75" width="8.312" height="13.210" fill="#42b6c4"/>
<rect x="348.42" y="230.96" width="8.312" height="13.210" fill="#40b5c4"/>
<rect x="348.42" y="244.17" width="8.312" height="13.210" fill="#40b5c4"/>
<rect x="348.42" y="257.38" width="8.312" height="13.210" fill="#40b5c4"/>
<rect x="348.42" y="270.59" width="8.312" height="13.210" fill="#40b5c4"/>
<rect x="348.42" y="283.80" width="8.312" height="13.210" fill="#3fb4c4"/>
<rect x="348.42" y="297.01" width="8.312" height="13.210" fill="#3fb4c4"/>
<rect x="348.42" y="310.22" width="8.312" height="13.210" fill="#3fb4c4"/>
<rect x="348.42" y="323.43" width="8.312" height="13.210" fill="#3fb4c4"/>
<rect x="356.74" y="7.10" width="8.312" height="12.500" fill="#7cccbb"/>
<rect x="356.74" y="19.60" width="8.312" height="13.210" fill="#7cccbb"/>
<rect x="356.74" y="32.81" width="8.312" height="13.210" fill="#7cccbb"/>
<rect x="356.74" y="46.02" width="8.312" height="13.210" fill="#7cccbb"/>
<rect x="356.74" y="59.23" width="8.312" height="13.210" fill="#7cccbb"/>
<rect x="356.74" y="72.44" width="8.312" height="13.210" fill="#7cccbb"/>
<rect x="356.74" y="85.65" width="8.312" height="13.210" fill="#7cccbb"/>
<rect x="356.74" y="98.86" width="8.312" height="13.210" fill="#7cccbb"/>
<rect x="356.74" y="112.07" width="8.312" height="13.210" fill="#7cccbb"/>
<rect x="356.74" y="125.28" width="8.312" height="13.210" fill="#7cccbb"/>
<rect x="356.74" y="138.49" width="8.312" height="13.210" fill="#7cccbb"/>
<rect x="356.74" y="151.70" width="8.312" height="13.210" fill="#7cccbb"/>
<rect x="356.74" y="164.91" width="8.312" height="13.210" fill="#7cccbb"/>
<rect x="356.74" y="178.12" width="8.312" height="13.210" fill="#7cccbb"/>
<rect x="356.74" y="191.33" width="8.312" height="13.210" fill="#7cccbb"/>
<rect x="356.74" y="204.54" width="8.312" height="13.210" fill="#7cccbb"/>
<rect x="356.74" y="217.75" width="8.312" height="13.210" fill="#7cccbb"/>
<rect x="356.74" y="230.96" width="8.312" height="13.210" fill="#7cccbb"/>
<rect x="356.74" y="244.17" width="8.312" height="13.210" fill="#7cccbb"/>
<rect x="356.74" y="257.38" width="8.312" height="13.210" fill="#7cccbb"/>
<rect x="356.74" y="270.59" width="8.312" height="13.210" fill="#7cccbb"/>
<rect x="356.74" y="283.80" width="8.312" height="13.210" fill="#7cccbb"/>
<rect x="356.74" y="297.01" width="8.312" height="13.210" fill="#7cccbb"/>
<rect x="356.74" y="310.22" width="8.312" height="13.210" fill="#7cccbb"/>
<rect x="356.74" y="323.43" width="8.312" height="13.210" fill="#7cccbb"/>
<rect x="365.05" y="7.10" width="8.312" height="12.500" fill="#2075b3"/>
<rect x="365.05" y="19.60" width="8.312" height="13.210" fill="#216bae"/>
<rect x="365.05" y="32.81" width="8.312" height="13.210" fill="#216bae"/>
<rect x="365.05" y="46.02" width="8.312" height="13.210" fill="#216bae"/>
<rect x="365.05" y="59.23" width="8.312" height="13.210" fill="#216bae"/>
<rect x="365.05" y="72.44" width="8.312" height="13.210" fill="#216bae"/>
<rect x="365.05" y="85.65" width="8.312" height="13.210" fill="#216bae"/>
<rect x="365.05" y="98.86" width="8.312" height="13.210" fill="#216bae"/>
<rect x="365.05" y="112.07" width="8.312" height="13.210" fill="#216bae"/>
<rect x="365.05" y="125.28" width="8.312" height="13.210" fill="#216bae"/>
<rect x="365.05" y="138.49" width="8.312" height="13.210" fill="#216daf"/>
<rect x="365.05" y="151.70" width="8.312" height="13.210" fill="#216daf"/>
<rect x="365.05" y="164.91" width="8.312" height="13.210" fill="#206eb0"/>
<rect x="365.05" y="178.12" width="8.312" height="13.210" fill="#206eb0"/>
<rect x="365.05" y="191.33" width="8.312" height="13.210" fill="#206eb0"/>
<rect x="365.05" y="204.54" width="8.312" height="13.210" fill="#206eb0"/>
<rect x="365.05" y="217.75" width="8.312" height="13.210" fill="#206eb0"/>
<rect x="365.05" y="230.96" width="8.312" height="13.210" fill="#206eb0"/>
<rect x="365.05" y="244.17" width="8.312" height="13.210" fill="#206eb0"/>
<rect x="365.05" y="257.38" width="8.312" height="13.210" fill="#206eb0"/>
<rect x="365.05" y="270.59" width="8.312" height="13.210" fill="#206eb0"/>
<rect x="365.05" y="283.80" width="8.312" height="13.210" fill="#206eb0"/>
<rect x="365.05" y="297.01" width="8.312" height="13.210" fill="#206eb0"/>
<rect x="365.05" y="310.22" width="8.312" height="13.210" fill="#206eb0"/>
<rect x="365.05" y="323.43" width="8.312" height="13.210" fill="#206eb0"/>
<rect x="373.36" y="7.10" width="8.312" height="12.500" fill="#1f7eb7"/>
<rect x="373.36" y="19.60" width="8.312" height="13.210" fill="#1f7eb7"/>
<rect x="373.36" y="32.81" width="8.312" height="13.210" fill="#1f7eb7"/>
<rect x="373.36" y="46.02" width="8.312" height="13.210" fill="#1f7eb7"/>
<rect x="373.36" y="59.23" width="8.312" height="13.210" fill="#1f7eb7"/>
<rect x="373.36" y="72.44" width="8.312" height="13.210" fill="#1f7eb7"/>
<rect x="373.36" y="85.65" width="8.312" height="13.210" fill="#1f7eb7"/>
<rect x="373.36" y="98.86" width="8.312" height="13.210" fill="#1f7eb7"/>
<rect x="373.36" y="112.07" width="8.312" height="13.210" fill="#1f7eb7"/>
<rect x="373.36" y="125.28" width="8.312" height="13.210" fill="#1f7eb7"/>
<rect x="373.36" y="138.49" width="8.312" height="13.210" fill="#1f7eb7"/>
<rect x="373.36" y="151.70" width="8.312" height="13.210" fill="#1f7eb7"/>
<rect x="373.36" y="164.91" width="8.312" height="13.210" fill="#1f7eb7"/>
<rect x="373.36" y="178.12" width="8.312" height="13.210" fill="#1f7eb7"/>
<rect x="373.36" y="191.33" width="8.312" height="13.210" fill="#1f7eb7"/>
<rect x="373.36" y="204.54" width="8.312" height="13.210" fill="#1f7eb7"/>
<rect x="373.36" y="217.75" width="8.312" height="13.210" fill="#1f7eb7"/>
<rect x="373.36" y="230.96" width="8.312" height="13.210" fill="#1f7eb7"/>
<rect x="373.36" y="244.17" width="8.312" height="13.210" fill="#1f7eb7"/>
<rect x="373.36" y="257.38" width="8.312" height="13.210" fill="#1f7eb7"/>
<rect x="373.36" y="270.59" width="8.312" height="13.210" fill="#1f7eb7"/>
<rect x="373.36" y="283.80" width="8.312" height="13.210" fill="#1f7eb7"/>
<rect x="373.36" y="297.01" width="8.312" height="13.210" fill="#1f7eb7"/>
<rect x="373.36" y="310.22" width="8.312" height="13.210" fill="#1f7eb7"/>
<rect x="373.36" y="323.43" width="8.312" height="13.210" fill="#1f7eb7"/>
<rect x="381.67" y="7.10" width="8.312" height="12.500" fill="#2075b3"/>
<rect x="381.67" y="19.60" width="8.312" height="13.210" fill="#2075b3"/>
<rect x="381.67" y="32.81" width="8.312" height="13.210" fill="#2075b3"/>
<rect x="381.67" y="46.02" width="8.312" height="13.210" fill="#2075b3"/>
<rect x="381.67" y="59.23" width="8.312" height="13.210" fill="#2075b3"/>
<rect x="381.67" y="72.44" width="8.312" height="13.210" fill="#2075b3"/>
<rect x="381.67" y="85.65" width="8.312" height="13.210" fill="#2075b3"/>
<rect x="381.67" y="98.86" width="8.312" height="13.210" fill="#2075b3"/>
<rect x="381.67" y="112.07" width="8.312" height="13.210" fill="#2075b3"/>
<rect x="381.67" y="125.28" width="8.312" height="13.210" fill="#2075b3"/>
<rect x="381.67" y="138.49" width="8.312" height="13.210" fill="#2075b3"/>
<rect x="381.67" y="151.70" width="8.312" height="13.210" fill="#2075b3"/>
<rect x="381.67" y="164.91" width="8.312" height="13.210" fill="#2075b3"/>
<rect x="381.67" y="178.12" width="8.312" height="13.210" fill="#2075b3"/>
<rect x="381.67" y="191.33" width="8.312" height="13.210" fill="#2075b3"/>
<rect x="381.67" y="204.54" width="8.312" height="13.210" fill="#2075b3"/>
<rect x="381.67" y="217.75" width="8.312" height="13.210" fill="#2075b3"/>
<rect x="381.67" y="230.96" width="8.312" height="13.210" fill="#2075b3"/>
<rect x="381.67" y="244.17" width="8.312" height="13.210" fill="#2075b3"/>
<rect x="381.67" y="257.38" width="8.312" height="13.210" fill="#2075b3"/>
<rect x="381.67" y="270.59" width="8.312" height="13.210" fill="#2075b3"/>
<rect x="381.67" y="283.80" width="8.312" height="13.210" fill="#2075b3"/>
<rect x="381.67" y="297.01" width="8.312" height="13.210" fill="#2075b3"/>
<rect x="381.67" y="310.22" width="8.312" height="13.210" fill="#2075b3"/>
<rect x="381.67" y="323.43" width="8.312" height="13.210" fill="#2075b3"/>
<rect x="389.98" y="7.10" width="8.312" height="12.500" fill="#216bae"/>
<rect x="389.98" y="19.60" width="8.312" height="13.210" fill="#216bae"/>
<rect x="389.98" y="32.81" width="8.312" height="13.210" fill="#216bae"/>
<rect x="389.98" y="46.02" width="8.312" height="13.210" fill="#216bae"/>
<rect x="389.98" y="59.23" width="8.312" height="13.210" fill="#216bae"/>
<rect x="389.98" y="72.44" width="8.312" height="13.210" fill="#216bae"/>
<rect x="389.98" y="85.65" width="8.312" height="13.210" fill="#216bae"/>
<rect x="389.98" y="98.86" width="8.312" height="13.210" fill="#216bae"/>
<rect x="389.98" y="112.07" width="8.312" height="13.210" fill="#216bae"/>
<rect x="389.98" y="125.28" width="8.312" height="13.210" fill="#216bae"/>
<rect x="389.98" y="138.49" width="8.312" height="13.210" fill="#216bae"/>
<rect x="389.98" y="151.70" width="8.312" height="13.210" fill="#216bae"/>
<rect x="389.98" y="164.91" width="8.312" height="13.210" fill="#216bae"/>
<rect x="389.98" y="178.12" width="8.312" height="13.210" fill="#216aad"/>
<rect x="389.98" y="191.33" width="8.312" height="13.210" fill="#2168ad"/>
<rect x="389.98" y="204.54" width="8.312" height="13.210" fill="#2166ac"/>
<rect x="389.98" y="217.75" width="8.312" height="13.210" fill="#2165ab"/>
<rect x="389.98" y="230.96" width="8.312" height="13.210" fill="#2163aa"/>
<rect x="389.98" y="244.17" width="8.312" height="13.210" fill="#2262aa"/>
<rect x="389.98" y="257.38" width="8.312" height="13.210" fill="#2260a9"/>
<rect x="389.98" y="270.59" width="8.312" height="13.210" fill="#225ea8"/>
<rect x="389.98" y="283.80" width="8.312" height="13.210" fill="#225ca7"/>
<rect x="389.98" y="297.01" width="8.312" height="13.210" fill="#225aa6"/>
<rect x="389.98" y="310.22" width="8.312" height="13.210" fill="#225aa6"/>
<rect x="389.98" y="323.43" width="8.312" height="13.210" fill="#225aa6"/>
<rect x="398.29" y="7.10" width="8.312" height="12.500" fill="#2352a3"/>
<rect x="398.29" y="19.60" width="8.312" height="13.210" fill="#2352a3"/>
<rect x="398.29" y="32.81" width="8.312" height="13.210" fill="#2352a3"/>
<rect x="398.29" y="46.02" width="8.312" height="13.210" fill="#2352a3"/>
<rect x="398.29" y="59.23" width="8.312" height="13.210" fill="#2352a3"/>
<rect x="398.29" y="72.44" width="8.312" height="13.210" fill="#2352a3"/>
<rect x="398.29" y="85.65" width="8.312" height="13.210" fill="#2352a3"/>
<rect x="398.29" y="98.86" width="8.312" height="13.210" fill="#2352a3"/>
<rect x="398.29" y="112.07" width="8.312" height="13.210" fill="#2352a3"/>
<rect x="398.29" y="125.28" width="8.312" height="13.210" fill="#2354a3"/>
<rect x="398.29" y="138.49" width="8.312" height="13.210" fill="#2354a3"/>
<rect x="398.29" y="151.70" width="8.312" height="13.210" fill="#2354a3"/>
<rect x="398.29" y="164.91" width="8.312" height="13.210" fill="#2355a4"/>
<rect x="398.29" y="178.12" width="8.312" height="13.210" fill="#2355a4"/>
<rect x="398.29" y="191.33" width="8.312" height="13.210" fill="#2355a4"/>
<rect x="398.29" y="204.54" width="8.312" height="13.210" fill="#2355a4"/>
<rect x="398.29" y="217.75" width="8.312" height="13.210" fill="#2355a4"/>
<rect x="398.29" y="230.96" width="8.312" height="13.210" fill="#2355a4"/>
<rect x="398.29" y="244.17" width="8.312" height="13.210" fill="#2355a4"/>
<rect x="398.29" y="257.38" width="8.312" height="13.210" fill="#2355a4"/>
<rect x="398.29" y="270.59" width="8.312" height="13.210" fill="#2355a4"/>
<rect x="398.29" y="283.80" width="8.312" height="13.210" fill="#2355a4"/>
<rect x="398.29" y="297.01" width="8.312" height="13.210" fill="#2355a4"/>
<rect x="398.29" y="310.22" width="8.312" height="13.210" fill="#2355a4"/>
<rect x="398.29" y="323.43" width="8.312" height="13.210" fill="#2355a4"/>
<rect x="406.61" y="7.10" width="8.312" height="12.500" fill="#abdeb7"/>
<rect x="406.61" y="19.60" width="8.312" height="13.210" fill="#abdeb7"/>
<rect x="406.61" y="32.81" width="8.312" height="13.210" fill="#abdeb7"/>
<rect x="406.61" y="46.02" width="8.312" height="13.210" fill="#abdeb7"/>
<rect x="406.61" y="59.23" width="8.312" height="13.210" fill="#a9ddb7"/>
<rect x="406.61" y="72.44" width="8.312" height="13.210" fill="#a9ddb7"/>
<rect x="406.61" y="85.65" width="8.312" height="13.210" fill="#a9ddb7"/>
<rect x="406.61" y="98.86" width="8.312" height="13.210" fill="#a9ddb7"/>
<rect x="406.61" y="112.07" width="8.312" height="13.210" fill="#a7dcb7"/>
<rect x="406.61" y="125.28" width="8.312" height="13.210" fill="#a5dcb7"/>
<rect x="406.61" y="138.49" width="8.312" height="13.210" fill="#a5dcb7"/>
<rect x="406.61" y="151.70" width="8.312" height="13.210" fill="#a2dbb8"/>
<rect x="406.61" y="164.91" width="8.312" height="13.210" fill="#a2dbb8"/>
<rect x="406.61" y="178.12" width="8.312" height="13.210" fill="#a0dab8"/>
<rect x="406.61" y="191.33" width="8.312" height="13.210" fill="#9ed9b8"/>
<rect x="406.61" y="204.54" width="8.312" height="13.210" fill="#9ed9b8"/>
<rect x="406.61" y="217.75" width="8.312" height="13.210" fill="#9cd8b8"/>
<rect x="406.61" y="230.96" width="8.312" height="13.210" fill="#99d7b8"/>
<rect x="406.61" y="244.17" width="8.312" height="13.210" fill="#99d7b8"/>
<rect x="406.61" y="257.38" width="8.312" height="13.210" fill="#99d7b8"/>
<rect x="406.61" y="270.59" width="8.312" height="13.210" fill="#97d6b9"/>
<rect x="406.61" y="283.80" width="8.312" height="13.210" fill="#97d6b9"/>
<rect x="406.61" y="297.01" width="8.312" height="13.210" fill="#95d5b9"/>
<rect x="406.61" y="310.22" width="8.312" height="13.210" fill="#95d5b9"/>
<rect x="406.61" y="323.43" width="8.312" height="13.210" fill="#95d5b9"/>
<rect x="414.92" y="7.10" width="8.312" height="12.500" fill="#a7dcb7"/>
<rect x="414.92" y="19.60" width="8.312" height="13.210" fill="#a7dcb7"/>
<rect x="414.92" y="32.81" width="8.312" height="13.210" fill="#a7dcb7"/>
<rect x="414.92" y="46.02" width="8.312" height="13.210" fill="#a5dcb7"/>
<rect x="414.92" y="59.23" width="8.312" height="13.210" fill="#a5dcb7"/>
<rect x="414.92" y="72.44" width="8.312" height="13.210" fill="#a2dbb8"/>
<rect x="414.92" y="85.65" width="8.312" height="13.210" fill="#a2dbb8"/>
<rect x="414.92" y="98.86" width="8.312" height="13.210" fill="#a2dbb8"/>
<rect x="414.92" y="112.07" width="8.312" height="13.210" fill="#a0dab8"/>
<rect x="414.92" y="125.28" width="8.312" height="13.210" fill="#9ed9b8"/>
<rect x="414.92" y="138.49" width="8.312" height="13.210" fill="#9ed9b8"/>
<rect x="414.92" y="151.70" width="8.312" height="13.210" fill="#9cd8b8"/>
<rect x="414.92" y="164.91" width="8.312" height="13.210" fill="#99d7b8"/>
<rect x="414.92" y="178.12" width="8.312" height="13.210" fill="#99d7b8"/>
<rect x="414.92" y="191.33" width="8.312" height="13.210" fill="#99d7b8"/>
<rect x="414.92" y="204.54" width="8.312" height="13.210" fill="#99d7b8"/>
<rect x="414.92" y="217.75" width="8.312" height="13.210" fill="#99d7b8"/>
<rect x="414.92" y="230.96" width="8.312" height="13.210" fill="#97d6b9"/>
<rect x="414.92" y="244.17" width="8.312" height="13.210" fill="#97d6b9"/>
<rect x="414.92" y="257.38" width="8.312" height="13.210" fill="#97d6b9"/>
<rect x="414.92" y="270.59" width="8.312" height="13.210" fill="#97d6b9"/>
<rect x="414.92" y="283.80" width="8.312" height="13.210" fill="#97d6b9"/>
<rect x="414.92" y="297.01" width="8.312" height="13.210" fill="#95d5b9"/>
<rect x="414.92" y="310.22" width="8.312" height="13.210" fill="#95d5b9"/>
<rect x="414.92" y="323.43" width="8.312" height="13.210" fill="#95d5b9"/>
<rect x="423.23" y="7.10" width="8.312" height="12.500" fill="#42b6c4"/>
<rect x="423.23" y="19.60" width="8.312" height="13.210" fill="#42b6c4"/>
<rect x="423.23" y="32.81" width="8.312" height="13.210" fill="#42b6c4"/>
<rect x="423.23" y="46.02" width="8.312" height="13.210" fill="#42b6c4"/>
<rect x="423.23" y="59.23" width="8.312" height="13.210" fill="#42b6c4"/>
<rect x="423.23" y="72.44" width="8.312" height="13.210" fill="#42b6c4"/>
<rect x="423.23" y="85.65" width="8.312" height="13.210" fill="#42b6c4"/>
<rect x="423.23" y="98.86" width="8.312" height="13.210" fill="#42b6c4"/>
<rect x="423.23" y="112.07" width="8.312" height="13.210" fill="#42b6c4"/>
<rect x="423.23" y="125.28" width="8.312" height="13.210" fill="#42b6c4"/>
<rect x="423.23" y="138.49" width="8.312" height="13.210" fill="#42b6c4"/>
<rect x="423.23" y="151.70" width="8.312" height="13.210" fill="#42b6c4"/>
<rect x="423.23" y="164.91" width="8.312" height="13.210" fill="#42b6c4"/>
<rect x="423.23" y="178.12" width="8.312" height="13.210" fill="#42b6c4"/>
<rect x="423.23" y="191.33" width="8.312" height="13.210" fill="#42b6c4"/>
<rect x="423.23" y="204.54" width="8.312" height="13.210" fill="#42b6c4"/>
<rect x="423.23" y="217.75" width="8.312" height="13.210" fill="#42b6c4"/>
<rect x="423.23" y="230.96" width="8.312" height="13.210" fill="#42b6c4"/>
<rect x="423.23" y="244.17" width="8.312" height="13.210" fill="#42b6c4"/>
<rect x="423.23" y="257.38" width="8.312" height="13.210" fill="#42b6c4"/>
<rect x="423.23" y="270.59" width="8.312" height="13.210" fill="#42b6c4"/>
<rect x="423.23" y="283.80" width="8.312" height="13.210" fill="#42b6c4"/>
<rect x="423.23" y="297.01" width="8.312" height="13.210" fill="#42b6c4"/>
<rect x="423.23" y="310.22" width="8.312" height="13.210" fill="#42b6c4"/>
<rect x="423.23" y="323.43" width="8.312" height="13.210" fill="#42b6c4"/>
<rect x="431.54" y="7.10" width="8.312" height="12.500" fill="#5fc1c0"/>
<rect x="431.54" y="19.60" width="8.312" height="13.210" fill="#5fc1c0"/>
<rect x="431.54" y="32.81" width="8.312" height="13.210" fill="#5fc1c0"/>
<rect x="431.54" y="46.02" width="8.312" height="13.210" fill="#5fc1c0"/>
<rect x="431.54" y="59.23" width="8.312" height="13.210" fill="#61c2bf"/>
<rect x="431.54" y="72.44" width="8.312" height="13.210" fill="#61c2bf"/>
<rect x="431.54" y="85.65" width="8.312" height="13.210" fill="#63c3bf"/>
<rect x="431.54" y="98.86" width="8.312" height="13.210" fill="#63c3bf"/>
<rect x="431.54" y="112.07" width="8.312" height="13.210" fill="#65c3bf"/>
<rect x="431.54" y="125.28" width="8.312" height="13.210" fill="#65c3bf"/>
<rect x="431.54" y="138.49" width="8.312" height="13.210" fill="#65c3bf"/>
<rect x="431.54" y="151.70" width="8.312" height="13.210" fill="#67c4be"/>
<rect x="431.54" y="164.91" width="8.312" height="13.210" fill="#67c4be"/>
<rect x="431.54" y="178.12" width="8.312" height="13.210" fill="#69c5be"/>
<rect x="431.54" y="191.33" width="8.312" height="13.210" fill="#69c5be"/>
<rect x="431.54" y="204.54" width="8.312" height="13.210" fill="#6bc6be"/>
<rect x="431.54" y="217.75" width="8.312" height="13.210" fill="#6bc6be"/>
<rect x="431.54" y="230.96" width="8.312" height="13.210" fill="#6bc6be"/>
<rect x="431.54" y="244.17" width="8.312" height="13.210" fill="#6dc6be"/>
<rect x="431.54" y="257.38" width="8.312" height="13.210" fill="#6dc6be"/>
<rect x="431.54" y="270.59" width="8.312" height="13.210" fill="#6fc7bd"/>
<rect x="431.54" y="283.80" width="8.312" height="13.210" fill="#6fc7bd"/>
<rect x="431.54" y="297.01" width="8.312" height="13.210" fill="#6fc7bd"/>
<rect x="431.54" y="310.22" width="8.312" height="13.210" fill="#6fc7bd"/>
<rect x="431.54" y="323.43" width="8.312" height="13.210" fill="#6fc7bd"/>
<rect x="439.85" y="7.10" width="8.312" height="12.500" fill="#e3f4b2"/>
<rect x="439.85" y="19.60" width="8.312" height="13.210" fill="#e3f4b2"/>
<rect x="439.85" y="32.81" width="8.312" height="13.210" fill="#e3f4b2"/>
<rect x="439.85" y="46.02" width="8.312" height="13.210" fill="#e3f4b2"/>
<rect x="439.85" y="59.23" width="8.312" height="13.210" fill="#e3f4b2"/>
<rect x="439.85" y="72.44" width="8.312" height="13.210" fill="#e3f4b2"/>
<rect x="439.85" y="85.65" width="8.312" height="13.210" fill="#e3f4b2"/>
<rect x="439.85" y="98.86" width="8.312" height="13.210" fill="#e3f4b2"/>
<rect x="439.85" y="112.07" width="8.312" height="13.210" fill="#e3f4b2"/>
<rect x="439.85" y="125.28" width="8.312" height="13.210" fill="#e3f4b2"/>
<rect x="439.85" y="138.49" width="8.312" height="13.210" fill="#e3f4b2"/>
<rect x="439.85" y="151.70" width="8.312" height="13.210" fill="#e3f4b2"/>
<rect x="439.85" y="164.91" width="8.312" height="13.210" fill="#e3f4b2"/>
<rect x="439.85" y="178.12" width="8.312" height="13.210" fill="#e3f4b2"/>
<rect x="439.85" y="191.33" width="8.312" height="13.210" fill="#e3f4b2"/>
<rect x="439.85" y="204.54" width="8.312" height="13.210" fill="#e3f4b2"/>
<rect x="439.85" y="217.75" width="8.312" height="13.210" fill="#e3f4b2"/>
<rect x="439.85" y="230.96" width="8.312" height="13.210" fill="#e3f4b2"/>
<rect x="439.85" y="244.17" width="8.312" height="13.210" fill="#e3f4b2"/>
<rect x="439.85" y="257.38" width="8.312" height="13.210" fill="#e3f4b2"/>
<rect x="439.85" y="270.59" width="8.312" height="13.210" fill="#e3f4b2"/>
<rect x="439.85" y="283.80" width="8.312" height="13.210" fill="#e3f4b2"/>
<rect x="439.85" y="297.01" width="8.312" height="13.210" fill="#e3f4b2"/>
<rect x="439.85" y="310.22" width="8.312" height="13.210" fill="#e3f4b2"/>
<rect x="439.85" y="323.43" width="8.312" height="13.210" fill="#e3f4b2"/>
<rect x="448.16" y="7.10" width="8.312" height="12.500" fill="#e0f3b2"/>
<rect x="448.16" y="19.60" width="8.312" height="13.210" fill="#e0f3b2"/>
<rect x="448.16" y="32.81" width="8.312" height="13.210" fill="#e0f3b2"/>
<rect x="448.16" y="46.02" width="8.312" height="13.210" fill="#e0f3b2"/>
<rect x="448.16" y="59.23" width="8.312" height="13.210" fill="#e0f3b2"/>
<rect x="448.16" y="72.44" width="8.312" height="13.210" fill="#e0f3b2"/>
<rect x="448.16" y="85.65" width="8.312" height="13.210" fill="#e0f3b2"/>
<rect x="448.16" y="98.86" width="8.312" height="13.210" fill="#e0f3b2"/>
<rect x="448.16" y="112.07" width="8.312" height="13.210" fill="#e0f3b2"/>
<rect x="448.16" y="125.28" width="8.312" height="13.210" fill="#e0f3b2"/>
<rect x="448.16" y="138.49" width="8.312" height="13.210" fill="#e0f3b2"/>
<rect x="448.16" y="151.70" width="8.312" height="13.210" fill="#e0f3b2"/>
<rect x="448.16" y="164.91" width="8.312" height="13.210" fill="#e0f3b2"/>
<rect x="448.16" y="178.12" width="8.312" height="13.210" fill="#e0f3b2"/>
<rect x="448.16" y="191.33" width="8.312" height="13.210" fill="#e0f3b2"/>
<rect x="448.16" y="204.54" width="8.312" height="13.210" fill="#e0f3b2"/>
<rect x="448.16" y="217.75" width="8.312" height="13.210" fill="#e0f3b2"/>
<rect x="448.16" y="230.96" width="8.312" height="13.210" fill="#e0f3b2"/>
<rect x="448.16" y="244.17" width="8.312" height="13.210" fill="#e0f3b2"/>
<rect x="448.16" y="257.38" width="8.312" height="13.210" fill="#e0f3b2"/>
<rect x="448.16" y="270.59" width="8.312" height="13.210" fill="#e0f3b2"/>
<rect x="448.16" y="283.80" width="8.312" height="13.210" fill="#e0f3b2"/>
<rect x="448.16" y="297.01" width="8.312" height="13.210" fill="#e0f3b2"/>
<rect x="448.16" y="310.22" width="8.312" height="13.210" fill="#e0f3b2"/>
<rect x="448.16" y="323.43" width="8.312" height="13.210" fill="#e0f3b2"/>
<rect x="456.48" y="7.10" width="8.312" height="12.500" fill="#f9fdcb"/>
<rect x="456.48" y="19.60" width="8.312" height="13.210" fill="#f1fabb"/>
<rect x="456.48" y="32.81" width="8.312" height="13.210" fill="#eff9b6"/>
<rect x="456.48" y="46.02" width="8.312" height="13.210" fill="#eff9b5"/>
<rect x="456.48" y="59.23" width="8.312" height="13.210" fill="#eef8b3"/>
<rect x="456.48" y="72.44" width="8.312" height="13.210" fill="#edf8b1"/>
<rect x="456.48" y="85.65" width="8.312" height="13.210" fill="#ecf7b1"/>
<rect x="456.48" y="98.86" width="8.312" height="13.210" fill="#eaf7b1"/>
<rect x="456.48" y="112.07" width="8.312" height="13.210" fill="#eaf7b1"/>
<rect x="456.48" y="125.28" width="8.312" height="13.210" fill="#e9f7b1"/>
<rect x="456.48" y="138.49" width="8.312" height="13.210" fill="#e9f7b1"/>
<rect x="456.48" y="151.70" width="8.312" height="13.210" fill="#e9f7b1"/>
<rect x="456.48" y="164.91" width="8.312" height="13.210" fill="#e9f7b1"/>
<rect x="456.48" y="178.12" width="8.312" height="13.210" fill="#e8f6b1"/>
<rect x="456.48" y="191.33" width="8.312" height="13.210" fill="#e8f6b1"/>
<rect x="456.48" y="204.54" width="8.312" height="13.210" fill="#e8f6b1"/>
<rect x="456.48" y="217.75" width="8.312" height="13.210" fill="#e7f6b1"/>
<rect x="456.48" y="230.96" width="8.312" height="13.210" fill="#e7f6b1"/>
<rect x="456.48" y="244.17" width="8.312" height="13.210" fill="#e6f5b2"/>
<rect x="456.48" y="257.38" width="8.312" height="13.210" fill="#e6f5b2"/>
<rect x="456.48" y="270.59" width="8.312" height="13.210" fill="#e6f5b2"/>
<rect x="456.48" y="283.80" width="8.312" height="13.210" fill="#e6f5b2"/>
<rect x="456.48" y="297.01" width="8.312" height="13.210" fill="#e6f5b2"/>
<rect x="456.48" y="310.22" width="8.312" height="13.210" fill="#e6f5b2"/>
<rect x="456.48" y="323.43" width="8.312" height="13.210" fill="#e6f5b2"/>
<rect x="464.79" y="7.10" width="8.312" height="12.500" fill="#e3f4b2"/>
<rect x="464.79" y="19.60" width="8.312" height="13.210" fill="#e3f4b2"/>
<rect x="464.79" y="32.81" width="8.312" height="13.210" fill="#e3f4b2"/>
<rect x="464.79" y="46.02" width="8.312" height="13.210" fill="#e3f4b2"/>
<rect x="464.79" y="59.23" width="8.312" height="13.210" fill="#e3f4b2"/>
<rect x="464.79" y="72.44" width="8.312" height="13.210" fill="#e3f4b2"/>
<rect x="464.79" y="85.65" width="8.312" height="13.210" fill="#e3f4b2"/>
<rect x="464.79" y="98.86" width="8.312" height="13.210" fill="#e3f4b2"/>
<rect x="464.79" y="112.07" width="8.312" height="13.210" fill="#e3f4b2"/>
<rect x="464.79" y="125.28" width="8.312" height="13.210" fill="#e3f4b2"/>
<rect x="464.79" y="138.49" width="8.312" height="13.210" fill="#e3f4b2"/>
<rect x="464.79" y="151.70" width="8.312" height="13.210" fill="#e3f4b2"/>
<rect x="464.79" y="164.91" width="8.312" height="13.210" fill="#e3f4b2"/>
<rect x="464.79" y="178.12" width="8.312" height="13.210" fill="#e3f4b2"/>
<rect x="464.79" y="191.33" width="8.312" height="13.210" fill="#e3f4b2"/>
<rect x="464.79" y="204.54" width="8.312" height="13.210" fill="#e3f4b2"/>
<rect x="464.79" y="217.75" width="8.312" height="13.210" fill="#e3f4b2"/>
<rect x="464.79" y="230.96" width="8.312" height="13.210" fill="#e3f4b2"/>
<rect x="464.79" y="244.17" width="8.312" height="13.210" fill="#e3f4b2"/>
<rect x="464.79" y="257.38" width="8.312" height="13.210" fill="#e3f4b2"/>
<rect x="464.79" y="270.59" width="8.312" height="13.210" fill="#e3f4b2"/>
<rect x="464.79" y="283.80" width="8.312" height="13.210" fill="#e3f4b2"/>
<rect x="464.79" y="297.01" width="8.312" height="13.210" fill="#e3f4b2"/>
<rect x="464.79" y="310.22" width="8.312" height="13.210" fill="#e3f4b2"/>
<rect x="464.79" y="323.43" width="8.312" height="13.210" fill="#e3f4b2"/>
</g>
<g stroke="#fff" stroke-width="0.7" stroke-opacity="0.8">
<line x1="57.51" y1="7.1" x2="57.51" y2="336.6"/>
<line x1="65.82" y1="7.1" x2="65.82" y2="336.6"/>
<line x1="74.14" y1="7.1" x2="74.14" y2="336.6"/>
<line x1="82.45" y1="7.1" x2="82.45" y2="336.6"/>
<line x1="90.76" y1="7.1" x2="90.76" y2="336.6"/>
<line x1="99.07" y1="7.1" x2="99.07" y2="336.6"/>
<line x1="107.38" y1="7.1" x2="107.38" y2="336.6"/>
<line x1="115.69" y1="7.1" x2="115.69" y2="336.6"/>
<line x1="124.01" y1="7.1" x2="124.01" y2="336.6"/>
<line x1="132.32" y1="7.1" x2="132.32" y2="336.6"/>
<line x1="140.63" y1="7.1" x2="140.63" y2="336.6"/>
<line x1="148.94" y1="7.1" x2="148.94" y2="336.6"/>
<line x1="157.25" y1="7.1" x2="157.25" y2="336.6"/>
<line x1="165.56" y1="7.1" x2="165.56" y2="336.6"/>
<line x1="173.88" y1="7.1" x2="173.88" y2="336.6"/>
<line x1="182.19" y1="7.1" x2="182.19" y2="336.6"/>
<line x1="190.50" y1="7.1" x2="190.50" y2="336.6"/>
<line x1="198.81" y1="7.1" x2="198.81" y2="336.6"/>
<line x1="207.12" y1="7.1" x2="207.12" y2="336.6"/>
<line x1="215.44" y1="7.1" x2="215.44" y2="336.6"/>
<line x1="223.75" y1="7.1" x2="223.75" y2="336.6"/>
<line x1="232.06" y1="7.1" x2="232.06" y2="336.6"/>
<line x1="240.37" y1="7.1" x2="240.37" y2="336.6"/>
<line x1="248.68" y1="7.1" x2="248.68" y2="336.6"/>
<line x1="256.99" y1="7.1" x2="256.99" y2="336.6"/>
<line x1="265.31" y1="7.1" x2="265.31" y2="336.6"/>
<line x1="273.62" y1="7.1" x2="273.62" y2="336.6"/>
<line x1="281.93" y1="7.1" x2="281.93" y2="336.6"/>
<line x1="290.24" y1="7.1" x2="290.24" y2="336.6"/>
<line x1="298.55" y1="7.1" x2="298.55" y2="336.6"/>
<line x1="306.86" y1="7.1" x2="306.86" y2="336.6"/>
<line x1="315.18" y1="7.1" x2="315.18" y2="336.6"/>
<line x1="323.49" y1="7.1" x2="323.49" y2="336.6"/>
<line x1="331.80" y1="7.1" x2="331.80" y2="336.6"/>
<line x1="340.11" y1="7.1" x2="340.11" y2="336.6"/>
<line x1="348.42" y1="7.1" x2="348.42" y2="336.6"/>
<line x1="356.74" y1="7.1" x2="356.74" y2="336.6"/>
<line x1="365.05" y1="7.1" x2="365.05" y2="336.6"/>
<line x1="373.36" y1="7.1" x2="373.36" y2="336.6"/>
<line x1="381.67" y1="7.1" x2="381.67" y2="336.6"/>
<line x1="389.98" y1="7.1" x2="389.98" y2="336.6"/>
<line x1="398.29" y1="7.1" x2="398.29" y2="336.6"/>
<line x1="406.61" y1="7.1" x2="406.61" y2="336.6"/>
<line x1="414.92" y1="7.1" x2="414.92" y2="336.6"/>
<line x1="423.23" y1="7.1" x2="423.23" y2="336.6"/>
<line x1="431.54" y1="7.1" x2="431.54" y2="336.6"/>
<line x1="439.85" y1="7.1" x2="439.85" y2="336.6"/>
<line x1="448.16" y1="7.1" x2="448.16" y2="336.6"/>
<line x1="456.48" y1="7.1" x2="456.48" y2="336.6"/>
<line x1="464.79" y1="7.1" x2="464.79" y2="336.6"/>
<line x1="49.2" y1="19.60" x2="473.1" y2="19.60"/>
<line x1="49.2" y1="32.81" x2="473.1" y2="32.81"/>
<line x1="49.2" y1="46.02" x2="473.1" y2="46.02"/>
<line x1="49.2" y1="59.23" x2="473.1" y2="59.23"/>
<line x1="49.2" y1="72.44" x2="473.1" y2="72.44"/>
<line x1="49.2" y1="85.65" x2="473.1" y2="85.65"/>
<line x1="49.2" y1="98.86" x2="473.1" y2="98.86"/>
<line x1="49.2" y1="112.07" x2="473.1" y2="112.07"/>
<line x1="49.2" y1="125.28" x2="473.1" y2="125.28"/>
<line x1="49.2" y1="138.49" x2="473.1" y2="138.49"/>
<line x1="49.2" y1="151.70" x2="473.1" y2="151.70"/>
<line x1="49.2" y1="164.91" x2="473.1" y2="164.91"/>
<line x1="49.2" y1="178.12" x2="473.1" y2="178.12"/>
<line x1="49.2" y1="191.33" x2="473.1" y2="191.33"/>
<line x1="49.2" y1="204.54" x2="473.1" y2="204.54"/>
<line x1="49.2" y1="217.75" x2="473.1" y2="217.75"/>
<line x1="49.2" y1="230.96" x2="473.1" y2="230.96"/>
<line x1="49.2" y1="244.17" x2="473.1" y2="244.17"/>
<line x1="49.2" y1="257.38" x2="473.1" y2="257.38"/>
<line x1="49.2" y1="270.59" x2="473.1" y2="270.59"/>
<line x1="49.2" y1="283.80" x2="473.1" y2="283.80"/>
<line x1="49.2" y1="297.01" x2="473.1" y2="297.01"/>
<line x1="49.2" y1="310.22" x2="473.1" y2="310.22"/>
<line x1="49.2" y1="323.43" x2="473.1" y2="323.43"/>
</g>
<g stroke="#111" stroke-width="1.3">
<line x1="41.2" y1="13.45" x2="44.9" y2="13.45" stroke-width="1.6"/>
<line x1="41.2" y1="28.20" x2="44.9" y2="28.20" stroke-width="1.6"/>
<line x1="41.2" y1="41.34" x2="44.9" y2="41.34" stroke-width="1.6"/>
<line x1="41.2" y1="54.48" x2="44.9" y2="54.48" stroke-width="1.6"/>
<line x1="41.2" y1="67.62" x2="44.9" y2="67.62" stroke-width="1.6"/>
<line x1="41.2" y1="80.76" x2="44.9" y2="80.76" stroke-width="1.6"/>
<line x1="41.2" y1="93.90" x2="44.9" y2="93.90" stroke-width="1.6"/>
<line x1="41.2" y1="107.04" x2="44.9" y2="107.04" stroke-width="1.6"/>
<line x1="41.2" y1="120.18" x2="44.9" y2="120.18" stroke-width="1.6"/>
<line x1="41.2" y1="133.32" x2="44.9" y2="133.32" stroke-width="1.6"/>
<line x1="41.2" y1="146.46" x2="44.9" y2="146.46" stroke-width="1.6"/>
<line x1="41.2" y1="159.60" x2="44.9" y2="159.60" stroke-width="1.6"/>
<line x1="41.2" y1="172.74" x2="44.9" y2="172.74" stroke-width="1.6"/>
<line x1="41.2" y1="185.88" x2="44.9" y2="185.88" stroke-width="1.6"/>
<line x1="41.2" y1="199.02" x2="44.9" y2="199.02" stroke-width="1.6"/>
<line x1="41.2" y1="212.16" x2="44.9" y2="212.16" stroke-width="1.6"/>
<line x1="41.2" y1="225.30" x2="44.9" y2="225.30" stroke-width="1.6"/>
<line x1="41.2" y1="238.44" x2="44.9" y2="238.44" stroke-width="1.6"/>
<line x1="41.2" y1="251.58" x2="44.9" y2="251.58" stroke-width="1.6"/>
<line x1="41.2" y1="264.72" x2="44.9" y2="264.72" stroke-width="1.6"/>
<line x1="41.2" y1="277.86" x2="44.9" y2="277.86" stroke-width="1.6"/>
<line x1="41.2" y1="291.00" x2="44.9" y2="291.00" stroke-width="1.6"/>
<line x1="41.2" y1="304.14" x2="44.9" y2="304.14" stroke-width="1.6"/>
<line x1="41.2" y1="317.28" x2="44.9" y2="317.28" stroke-width="1.6"/>
<line x1="41.2" y1="330.42" x2="44.9" y2="330.42" stroke-width="1.6"/>
<line x1="53.36" y1="337.2" x2="53.36" y2="342"/>
<line x1="61.67" y1="337.2" x2="61.67" y2="342"/>
<line x1="69.98" y1="337.2" x2="69.98" y2="342"/>
<line x1="78.29" y1="337.2" x2="78.29" y2="342"/>
<line x1="86.60" y1="337.2" x2="86.60" y2="342"/>
<line x1="94.91" y1="337.2" x2="94.91" y2="342"/>
<line x1="103.23" y1="337.2" x2="103.23" y2="342"/>
<line x1="111.54" y1="337.2" x2="111.54" y2="342"/>
<line x1="119.85" y1="337.2" x2="119.85" y2="342"/>
<line x1="128.16" y1="337.2" x2="128.16" y2="342"/>
<line x1="136.47" y1="337.2" x2="136.47" y2="342"/>
<line x1="144.79" y1="337.2" x2="144.79" y2="342"/>
<line x1="153.10" y1="337.2" x2="153.10" y2="342"/>
<line x1="161.41" y1="337.2" x2="161.41" y2="342"/>
<line x1="169.72" y1="337.2" x2="169.72" y2="342"/>
<line x1="178.03" y1="337.2" x2="178.03" y2="342"/>
<line x1="186.34" y1="337.2" x2="186.34" y2="342"/>
<line x1="194.66" y1="337.2" x2="194.66" y2="342"/>
<line x1="202.97" y1="337.2" x2="202.97" y2="342"/>
<line x1="211.28" y1="337.2" x2="211.28" y2="342"/>
<line x1="219.59" y1="337.2" x2="219.59" y2="342"/>
<line x1="227.90" y1="337.2" x2="227.90" y2="342"/>
<line x1="236.21" y1="337.2" x2="236.21" y2="342"/>
<line x1="244.53" y1="337.2" x2="244.53" y2="342"/>
<line x1="252.84" y1="337.2" x2="252.84" y2="342"/>
<line x1="261.15" y1="337.2" x2="261.15" y2="342"/>
<line x1="269.46" y1="337.2" x2="269.46" y2="342"/>
<line x1="277.77" y1="337.2" x2="277.77" y2="342"/>
<line x1="286.09" y1="337.2" x2="286.09" y2="342"/>
<line x1="294.40" y1="337.2" x2="294.40" y2="342"/>
<line x1="302.71" y1="337.2" x2="302.71" y2="342"/>
<line x1="311.02" y1="337.2" x2="311.02" y2="342"/>
<line x1="319.33" y1="337.2" x2="319.33" y2="342"/>
<line x1="327.64" y1="337.2" x2="327.64" y2="342"/>
<line x1="335.96" y1="337.2" x2="335.96" y2="342"/>
<line x1="344.27" y1="337.2" x2="344.27" y2="342"/>
<line x1="352.58" y1="337.2" x2="352.58" y2="342"/>
<line x1="360.89" y1="337.2" x2="360.89" y2="342"/>
<line x1="369.20" y1="337.2" x2="369.20" y2="342"/>
<line x1="377.51" y1="337.2" x2="377.51" y2="342"/>
<line x1="385.83" y1="337.2" x2="385.83" y2="342"/>
<line x1="394.14" y1="337.2" x2="394.14" y2="342"/>
<line x1="402.45" y1="337.2" x2="402.45" y2="342"/>
<line x1="410.76" y1="337.2" x2="410.76" y2="342"/>
<line x1="419.07" y1="337.2" x2="419.07" y2="342"/>
<line x1="427.39" y1="337.2" x2="427.39" y2="342"/>
<line x1="435.70" y1="337.2" x2="435.70" y2="342"/>
<line x1="444.01" y1="337.2" x2="444.01" y2="342"/>
<line x1="452.32" y1="337.2" x2="452.32" y2="342"/>
<line x1="460.63" y1="337.2" x2="460.63" y2="342"/>
<line x1="468.94" y1="337.2" x2="468.94" y2="342"/>
</g>
<g font-size="12" fill="#1a1a1a" stroke="#1a1a1a" stroke-width="0.15">
<text x="0" y="0" transform="translate(34.8,17.75) scale(0.78,1)" text-anchor="end">0</text>
<text x="0" y="0" transform="translate(34.8,32.50) scale(0.78,1)" text-anchor="end">1</text>
<text x="0" y="0" transform="translate(34.8,45.64) scale(0.78,1)" text-anchor="end">2</text>
<text x="0" y="0" transform="translate(34.8,58.78) scale(0.78,1)" text-anchor="end">3</text>
<text x="0" y="0" transform="translate(34.8,71.92) scale(0.78,1)" text-anchor="end">4</text>
<text x="0" y="0" transform="translate(34.8,85.06) scale(0.78,1)" text-anchor="end">5</text>
<text x="0" y="0" transform="translate(34.8,98.20) scale(0.78,1)" text-anchor="end">6</text>
<text x="0" y="0" transform="translate(34.8,111.34) scale(0.78,1)" text-anchor="end">7</text>
<text x="0" y="0" transform="translate(34.8,124.48) scale(0.78,1)" text-anchor="end">8</text>
<text x="0" y="0" transform="translate(34.8,137.62) scale(0.78,1)" text-anchor="end">9</text>
<text x="0" y="0" transform="translate(34.8,150.76) scale(0.78,1)" text-anchor="end">10</text>
<text x="0" y="0" transform="translate(34.8,163.90) scale(0.78,1)" text-anchor="end">11</text>
<text x="0" y="0" transform="translate(34.8,177.04) scale(0.78,1)" text-anchor="end">12</text>
<text x="0" y="0" transform="translate(34.8,190.18) scale(0.78,1)" text-anchor="end">13</text>
<text x="0" y="0" transform="translate(34.8,203.32) scale(0.78,1)" text-anchor="end">14</text>
<text x="0" y="0" transform="translate(34.8,216.46) scale(0.78,1)" text-anchor="end">15</text>
<text x="0" y="0" transform="translate(34.8,229.60) scale(0.78,1)" text-anchor="end">16</text>
<text x="0" y="0" transform="translate(34.8,242.74) scale(0.78,1)" text-anchor="end">17</text>
<text x="0" y="0" transform="translate(34.8,255.88) scale(0.78,1)" text-anchor="end">18</text>
<text x="0" y="0" transform="translate(34.8,269.02) scale(0.78,1)" text-anchor="end">19</text>
<text x="0" y="0" transform="translate(34.8,282.16) scale(0.78,1)" text-anchor="end">20</text>
<text x="0" y="0" transform="translate(34.8,295.30) scale(0.78,1)" text-anchor="end">21</text>
<text x="0" y="0" transform="translate(34.8,308.44) scale(0.78,1)" text-anchor="end">22</text>
<text x="0" y="0" transform="translate(34.8,321.58) scale(0.78,1)" text-anchor="end">23</text>
<text x="0" y="0" transform="translate(34.8,334.72) scale(0.78,1)" text-anchor="end">24</text>
</g>
<g font-size="7.6" fill="#111" stroke="#111" stroke-width="0.25">
<text x="-4.40" y="0" transform="translate(55.96,349.2) rotate(-90)" textLength="4.4" lengthAdjust="spacingAndGlyphs">1</text>
<text x="-4.40" y="0" transform="translate(64.27,349.2) rotate(-90)" textLength="4.4" lengthAdjust="spacingAndGlyphs">2</text>
<text x="-4.40" y="0" transform="translate(72.58,349.2) rotate(-90)" textLength="4.4" lengthAdjust="spacingAndGlyphs">3</text>
<text x="-4.40" y="0" transform="translate(80.89,349.2) rotate(-90)" textLength="4.4" lengthAdjust="spacingAndGlyphs">4</text>
<text x="-4.40" y="0" transform="translate(89.20,349.2) rotate(-90)" textLength="4.4" lengthAdjust="spacingAndGlyphs">5</text>
<text x="-4.40" y="0" transform="translate(97.51,349.2) rotate(-90)" textLength="4.4" lengthAdjust="spacingAndGlyphs">6</text>
<text x="-4.40" y="0" transform="translate(105.83,349.2) rotate(-90)" textLength="4.4" lengthAdjust="spacingAndGlyphs">7</text>
<text x="-4.40" y="0" transform="translate(114.14,349.2) rotate(-90)" textLength="4.4" lengthAdjust="spacingAndGlyphs">8</text>
<text x="-4.40" y="0" transform="translate(122.45,349.2) rotate(-90)" textLength="4.4" lengthAdjust="spacingAndGlyphs">9</text>
<text x="-8.80" y="0" transform="translate(130.76,349.2) rotate(-90)" textLength="8.8" lengthAdjust="spacingAndGlyphs">10</text>
<text x="-8.80" y="0" transform="translate(139.07,349.2) rotate(-90)" textLength="8.8" lengthAdjust="spacingAndGlyphs">11</text>
<text x="-8.80" y="0" transform="translate(147.39,349.2) rotate(-90)" textLength="8.8" lengthAdjust="spacingAndGlyphs">12</text>
<text x="-8.80" y="0" transform="translate(155.70,349.2) rotate(-90)" textLength="8.8" lengthAdjust="spacingAndGlyphs">13</text>
<text x="-8.80" y="0" transform="translate(164.01,349.2) rotate(-90)" textLength="8.8" lengthAdjust="spacingAndGlyphs">14</text>
<text x="-8.80" y="0" transform="translate(172.32,349.2) rotate(-90)" textLength="8.8" lengthAdjust="spacingAndGlyphs">15</text>
<text x="-8.80" y="0" transform="translate(180.63,349.2) rotate(-90)" textLength="8.8" lengthAdjust="spacingAndGlyphs">16</text>
<text x="-8.80" y="0" transform="translate(188.94,349.2) rotate(-90)" textLength="8.8" lengthAdjust="spacingAndGlyphs">17</text>
<text x="-8.80" y="0" transform="translate(197.26,349.2) rotate(-90)" textLength="8.8" lengthAdjust="spacingAndGlyphs">18</text>
<text x="-8.80" y="0" transform="translate(205.57,349.2) rotate(-90)" textLength="8.8" lengthAdjust="spacingAndGlyphs">19</text>
<text x="-8.80" y="0" transform="translate(213.88,349.2) rotate(-90)" textLength="8.8" lengthAdjust="spacingAndGlyphs">20</text>
<text x="-8.80" y="0" transform="translate(222.19,349.2) rotate(-90)" textLength="8.8" lengthAdjust="spacingAndGlyphs">21</text>
<text x="-8.80" y="0" transform="translate(230.50,349.2) rotate(-90)" textLength="8.8" lengthAdjust="spacingAndGlyphs">22</text>
<text x="-8.80" y="0" transform="translate(238.81,349.2) rotate(-90)" textLength="8.8" lengthAdjust="spacingAndGlyphs">23</text>
<text x="-8.80" y="0" transform="translate(247.13,349.2) rotate(-90)" textLength="8.8" lengthAdjust="spacingAndGlyphs">24</text>
<text x="-8.80" y="0" transform="translate(255.44,349.2) rotate(-90)" textLength="8.8" lengthAdjust="spacingAndGlyphs">25</text>
<text x="-8.80" y="0" transform="translate(263.75,349.2) rotate(-90)" textLength="8.8" lengthAdjust="spacingAndGlyphs">26</text>
<text x="-8.80" y="0" transform="translate(272.06,349.2) rotate(-90)" textLength="8.8" lengthAdjust="spacingAndGlyphs">27</text>
<text x="-8.80" y="0" transform="translate(280.37,349.2) rotate(-90)" textLength="8.8" lengthAdjust="spacingAndGlyphs">28</text>
<text x="-8.80" y="0" transform="translate(288.69,349.2) rotate(-90)" textLength="8.8" lengthAdjust="spacingAndGlyphs">29</text>
<text x="-8.80" y="0" transform="translate(297.00,349.2) rotate(-90)" textLength="8.8" lengthAdjust="spacingAndGlyphs">30</text>
<text x="-8.80" y="0" transform="translate(305.31,349.2) rotate(-90)" textLength="8.8" lengthAdjust="spacingAndGlyphs">31</text>
<text x="-8.80" y="0" transform="translate(313.62,349.2) rotate(-90)" textLength="8.8" lengthAdjust="spacingAndGlyphs">32</text>
<text x="-8.80" y="0" transform="translate(321.93,349.2) rotate(-90)" textLength="8.8" lengthAdjust="spacingAndGlyphs">33</text>
<text x="-8.80" y="0" transform="translate(330.24,349.2) rotate(-90)" textLength="8.8" lengthAdjust="spacingAndGlyphs">34</text>
<text x="-8.80" y="0" transform="translate(338.56,349.2) rotate(-90)" textLength="8.8" lengthAdjust="spacingAndGlyphs">35</text>
<text x="-8.80" y="0" transform="translate(346.87,349.2) rotate(-90)" textLength="8.8" lengthAdjust="spacingAndGlyphs">36</text>
<text x="-8.80" y="0" transform="translate(355.18,349.2) rotate(-90)" textLength="8.8" lengthAdjust="spacingAndGlyphs">37</text>
<text x="-8.80" y="0" transform="translate(363.49,349.2) rotate(-90)" textLength="8.8" lengthAdjust="spacingAndGlyphs">38</text>
<text x="-8.80" y="0" transform="translate(371.80,349.2) rotate(-90)" textLength="8.8" lengthAdjust="spacingAndGlyphs">39</text>
<text x="-8.80" y="0" transform="translate(380.11,349.2) rotate(-90)" textLength="8.8" lengthAdjust="spacingAndGlyphs">40</text>
<text x="-8.80" y="0" transform="translate(388.43,349.2) rotate(-90)" textLength="8.8" lengthAdjust="spacingAndGlyphs">41</text>
<text x="-8.80" y="0" transform="translate(396.74,349.2) rotate(-90)" textLength="8.8" lengthAdjust="spacingAndGlyphs">42</text>
<text x="-8.80" y="0" transform="translate(405.05,349.2) rotate(-90)" textLength="8.8" lengthAdjust="spacingAndGlyphs">43</text>
<text x="-8.80" y="0" transform="translate(413.36,349.2) rotate(-90)" textLength="8.8" lengthAdjust="spacingAndGlyphs">44</text>
<text x="-8.80" y="0" transform="translate(421.67,349.2) rotate(-90)" textLength="8.8" lengthAdjust="spacingAndGlyphs">45</text>
<text x="-8.80" y="0" transform="translate(429.99,349.2) rotate(-90)" textLength="8.8" lengthAdjust="spacingAndGlyphs">46</text>
<text x="-8.80" y="0" transform="translate(438.30,349.2) rotate(-90)" textLength="8.8" lengthAdjust="spacingAndGlyphs">47</text>
<text x="-8.80" y="0" transform="translate(446.61,349.2) rotate(-90)" textLength="8.8" lengthAdjust="spacingAndGlyphs">48</text>
<text x="-8.80" y="0" transform="translate(454.92,349.2) rotate(-90)" textLength="8.8" lengthAdjust="spacingAndGlyphs">49</text>
<text x="-8.80" y="0" transform="translate(463.23,349.2) rotate(-90)" textLength="8.8" lengthAdjust="spacingAndGlyphs">50</text>
<text x="-8.80" y="0" transform="translate(471.54,349.2) rotate(-90)" textLength="8.8" lengthAdjust="spacingAndGlyphs">51</text>
</g>
<text x="283.1" y="372.8" font-size="11.8" fill="#111" stroke="#111" stroke-width="0.15" text-anchor="middle">Variables</text>
<text x="0" y="0" transform="translate(16.4,181.5) rotate(-90)" font-size="11.2" fill="#111" stroke="#111" stroke-width="0.15" text-anchor="middle">Lags (Days)</text>
<g shape-rendering="crispEdges"><rect x="485.9" y="81" width="15.00" height="1" fill="#081d58"/><rect x="485.9" y="82" width="15.00" height="1" fill="#091e5a"/><rect x="485.9" y="83" width="15.00" height="1" fill="#0b1f5e"/><rect x="485.9" y="84" width="15.00" height="1" fill="#0c2060"/><rect x="485.9" y="85" width="15.00" height="1" fill="#0d2161"/><rect x="485.9" y="86" width="15.00" height="1" fill="#0e2265"/><rect x="485.9" y="87" width="15.00" height="1" fill="#0f2367"/><rect x="485.9" y="88" width="15.00" height="1" fill="#11246b"/><rect x="485.9" y="89" width="15.00" height="1" fill="#12256d"/><rect x="485.9" y="90" width="15.00" height="1" fill="#13266f"/><rect x="485.9" y="91" width="15.00" height="1" fill="#152772"/><rect x="485.9" y="92" width="15.00" height="1" fill="#162874"/><rect x="485.9" y="93" width="15.00" height="1" fill="#172978"/><rect x="485.9" y="94" width="15.00" height="1" fill="#182a7a"/><rect x="485.9" y="95" width="15.00" height="1" fill="#192b7c"/><rect x="485.9" y="96" width="15.00" height="1" fill="#1b2c80"/><rect x="485.9" y="97" width="15.00" height="1" fill="#1c2d81"/><rect x="485.9" y="98" width="15.00" height="1" fill="#1e2e85"/><rect x="485.9" y="99" width="15.00" height="1" fill="#1f2f87"/><rect x="485.9" y="100" width="15.00" height="1" fill="#203089"/><rect x="485.9" y="101" width="15.00" height="1" fill="#21318d"/><rect x="485.9" y="102" width="15.00" height="1" fill="#22328f"/><rect x="485.9" y="103" width="15.00" height="1" fill="#243392"/><rect x="485.9" y="104" width="15.00" height="1" fill="#253494"/><rect x="485.9" y="105" width="15.00" height="1" fill="#253595"/><rect x="485.9" y="106" width="15.00" height="1" fill="#253896"/><rect x="485.9" y="107" width="15.00" height="1" fill="#253997"/><rect x="485.9" y="108" width="15.00" height="1" fill="#253b97"/><rect x="485.9" y="109" width="15.00" height="1" fill="#243d98"/><rect x="485.9" y="110" width="15.00" height="1" fill="#243f99"/><rect x="485.9" y="111" width="15.00" height="1" fill="#24419a"/><rect x="485.9" y="112" width="15.00" height="1" fill="#24439b"/><rect x="485.9" y="113" width="15.00" height="1" fill="#24449c"/><rect x="485.9" y="114" width="15.00" height="1" fill="#24479d"/><rect x="485.9" y="115" width="15.00" height="1" fill="#24489d"/><rect x="485.9" y="116" width="15.00" height="1" fill="#234b9f"/><rect x="485.9" y="117" width="15.00" height="1" fill="#234c9f"/><rect x="485.9" y="118" width="15.00" height="1" fill="#234da0"/><rect x="485.9" y="119" width="15.00" height="1" fill="#2350a1"/><rect x="485.9" y="120" width="15.00" height="1" fill="#2351a2"/><rect x="485.9" y="121" width="15.00" height="1" fill="#2354a3"/><rect x="485.9" y="122" width="15.00" height="1" fill="#2355a4"/><rect x="485.9" y="123" width="15.00" height="1" fill="#2356a4"/><rect x="485.9" y="124" width="15.00" height="1" fill="#2259a6"/><rect x="485.9" y="125" width="15.00" height="1" fill="#225aa6"/><rect x="485.9" y="126" width="15.00" height="1" fill="#225da8"/><rect x="485.9" y="127" width="15.00" height="1" fill="#225ea8"/><rect x="485.9" y="128" width="15.00" height="1" fill="#2260a9"/><rect x="485.9" y="129" width="15.00" height="1" fill="#2163aa"/><rect x="485.9" y="130" width="15.00" height="1" fill="#2165ab"/><rect x="485.9" y="131" width="15.00" height="1" fill="#2166ac"/><rect x="485.9" y="132" width="15.00" height="1" fill="#216aad"/><rect x="485.9" y="133" width="15.00" height="1" fill="#216bae"/><rect x="485.9" y="134" width="15.00" height="1" fill="#206eb0"/><rect x="485.9" y="135" width="15.00" height="1" fill="#2070b0"/><rect x="485.9" y="136" width="15.00" height="1" fill="#2072b1"/><rect x="485.9" y="137" width="15.00" height="1" fill="#2075b3"/><rect x="485.9" y="138" width="15.00" height="1" fill="#2076b3"/><rect x="485.9" y="139" width="15.00" height="1" fill="#1f7ab5"/><rect x="485.9" y="140" width="15.00" height="1" fill="#1f7bb6"/><rect x="485.9" y="141" width="15.00" height="1" fill="#1f7db6"/><rect x="485.9" y="142" width="15.00" height="1" fill="#1f80b8"/><rect x="485.9" y="143" width="15.00" height="1" fill="#1f82b9"/><rect x="485.9" y="144" width="15.00" height="1" fill="#1e85ba"/><rect x="485.9" y="145" width="15.00" height="1" fill="#1e86bb"/><rect x="485.9" y="146" width="15.00" height="1" fill="#1e88bc"/><rect x="485.9" y="147" width="15.00" height="1" fill="#1e8bbd"/><rect x="485.9" y="148" width="15.00" height="1" fill="#1d8dbe"/><rect x="485.9" y="149" width="15.00" height="1" fill="#1d90c0"/><rect x="485.9" y="150" width="15.00" height="1" fill="#1d91c0"/><rect x="485.9" y="151" width="15.00" height="1" fill="#1f93c0"/><rect x="485.9" y="152" width="15.00" height="1" fill="#2195c0"/><rect x="485.9" y="153" width="15.00" height="1" fill="#2296c1"/><rect x="485.9" y="154" width="15.00" height="1" fill="#2397c1"/><rect x="485.9" y="155" width="15.00" height="1" fill="#259ac1"/><rect x="485.9" y="156" width="15.00" height="1" fill="#269bc1"/><rect x="485.9" y="157" width="15.00" height="1" fill="#299dc1"/><rect x="485.9" y="158" width="15.00" height="1" fill="#2a9ec1"/><rect x="485.9" y="159" width="15.00" height="1" fill="#2b9fc2"/><rect x="485.9" y="160" width="15.00" height="1" fill="#2da2c2"/><rect x="485.9" y="161" width="15.00" height="1" fill="#2ea3c2"/><rect x="485.9" y="162" width="15.00" height="1" fill="#31a5c2"/><rect x="485.9" y="163" width="15.00" height="1" fill="#32a6c2"/><rect x="485.9" y="164" width="15.00" height="1" fill="#33a7c2"/><rect x="485.9" y="165" width="15.00" height="1" fill="#35aac3"/><rect x="485.9" y="166" width="15.00" height="1" fill="#36abc3"/><rect x="485.9" y="167" width="15.00" height="1" fill="#39adc3"/><rect x="485.9" y="168" width="15.00" height="1" fill="#3aaec3"/><rect x="485.9" y="169" width="15.00" height="1" fill="#3bb0c3"/><rect x="485.9" y="170" width="15.00" height="1" fill="#3db2c4"/><rect x="485.9" y="171" width="15.00" height="1" fill="#3eb3c4"/><rect x="485.9" y="172" width="15.00" height="1" fill="#40b5c4"/><rect x="485.9" y="173" width="15.00" height="1" fill="#42b6c4"/><rect x="485.9" y="174" width="15.00" height="1" fill="#44b7c4"/><rect x="485.9" y="175" width="15.00" height="1" fill="#48b9c3"/><rect x="485.9" y="176" width="15.00" height="1" fill="#4ab9c3"/><rect x="485.9" y="177" width="15.00" height="1" fill="#4cbac2"/><rect x="485.9" y="178" width="15.00" height="1" fill="#50bbc2"/><rect x="485.9" y="179" width="15.00" height="1" fill="#52bcc2"/><rect x="485.9" y="180" width="15.00" height="1" fill="#55bec1"/><rect x="485.9" y="181" width="15.00" height="1" fill="#57bec1"/><rect x="485.9" y="182" width="15.00" height="1" fill="#59bfc0"/><rect x="485.9" y="183" width="15.00" height="1" fill="#5dc0c0"/><rect x="485.9" y="184" width="15.00" height="1" fill="#5fc1c0"/><rect x="485.9" y="185" width="15.00" height="1" fill="#63c3bf"/><rect x="485.9" y="186" width="15.00" height="1" fill="#65c3bf"/><rect x="485.9" y="187" width="15.00" height="1" fill="#67c4be"/><rect x="485.9" y="188" width="15.00" height="1" fill="#6bc6be"/><rect x="485.9" y="189" width="15.00" height="1" fill="#6dc6be"/><rect x="485.9" y="190" width="15.00" height="1" fill="#71c8bd"/><rect x="485.9" y="191" width="15.00" height="1" fill="#73c8bd"/><rect x="485.9" y="192" width="15.00" height="1" fill="#75c9bd"/><rect x="485.9" y="193" width="15.00" height="1" fill="#78cbbc"/><rect x="485.9" y="194" width="15.00" height="1" fill="#7acbbc"/><rect x="485.9" y="195" width="15.00" height="1" fill="#7ecdbb"/><rect x="485.9" y="196" width="15.00" height="1" fill="#80cebb"/><rect x="485.9" y="197" width="15.00" height="1" fill="#83cebb"/><rect x="485.9" y="198" width="15.00" height="1" fill="#87d0ba"/><rect x="485.9" y="199" width="15.00" height="1" fill="#89d1ba"/><rect x="485.9" y="200" width="15.00" height="1" fill="#8cd2ba"/><rect x="485.9" y="201" width="15.00" height="1" fill="#90d4b9"/><rect x="485.9" y="202" width="15.00" height="1" fill="#92d5b9"/><rect x="485.9" y="203" width="15.00" height="1" fill="#97d6b9"/><rect x="485.9" y="204" width="15.00" height="1" fill="#99d7b8"/><rect x="485.9" y="205" width="15.00" height="1" fill="#9cd8b8"/><rect x="485.9" y="206" width="15.00" height="1" fill="#a0dab8"/><rect x="485.9" y="207" width="15.00" height="1" fill="#a2dbb8"/><rect x="485.9" y="208" width="15.00" height="1" fill="#a7dcb7"/><rect x="485.9" y="209" width="15.00" height="1" fill="#a9ddb7"/><rect x="485.9" y="210" width="15.00" height="1" fill="#abdeb7"/><rect x="485.9" y="211" width="15.00" height="1" fill="#b0e0b6"/><rect x="485.9" y="212" width="15.00" height="1" fill="#b2e1b6"/><rect x="485.9" y="213" width="15.00" height="1" fill="#b7e3b6"/><rect x="485.9" y="214" width="15.00" height="1" fill="#b9e4b5"/><rect x="485.9" y="215" width="15.00" height="1" fill="#bbe4b5"/><rect x="485.9" y="216" width="15.00" height="1" fill="#c0e6b5"/><rect x="485.9" y="217" width="15.00" height="1" fill="#c2e7b4"/><rect x="485.9" y="218" width="15.00" height="1" fill="#c6e9b4"/><rect x="485.9" y="219" width="15.00" height="1" fill="#c8e9b4"/><rect x="485.9" y="220" width="15.00" height="1" fill="#c9eab4"/><rect x="485.9" y="221" width="15.00" height="1" fill="#cbebb4"/><rect x="485.9" y="222" width="15.00" height="1" fill="#cdebb4"/><rect x="485.9" y="223" width="15.00" height="1" fill="#ceecb3"/><rect x="485.9" y="224" width="15.00" height="1" fill="#d0edb3"/><rect x="485.9" y="225" width="15.00" height="1" fill="#d1edb3"/><rect x="485.9" y="226" width="15.00" height="1" fill="#d4eeb3"/><rect x="485.9" y="227" width="15.00" height="1" fill="#d5efb3"/><rect x="485.9" y="228" width="15.00" height="1" fill="#d6efb3"/><rect x="485.9" y="229" width="15.00" height="1" fill="#d9f0b3"/><rect x="485.9" y="230" width="15.00" height="1" fill="#daf0b3"/><rect x="485.9" y="231" width="15.00" height="1" fill="#dcf1b2"/><rect x="485.9" y="232" width="15.00" height="1" fill="#ddf2b2"/><rect x="485.9" y="233" width="15.00" height="1" fill="#dff2b2"/><rect x="485.9" y="234" width="15.00" height="1" fill="#e1f3b2"/><rect x="485.9" y="235" width="15.00" height="1" fill="#e2f4b2"/><rect x="485.9" y="236" width="15.00" height="1" fill="#e5f5b2"/><rect x="485.9" y="237" width="15.00" height="1" fill="#e6f5b2"/><rect x="485.9" y="238" width="15.00" height="1" fill="#e7f6b1"/><rect x="485.9" y="239" width="15.00" height="1" fill="#e9f7b1"/><rect x="485.9" y="240" width="15.00" height="1" fill="#eaf7b1"/><rect x="485.9" y="241" width="15.00" height="1" fill="#edf8b1"/><rect x="485.9" y="242" width="15.00" height="1" fill="#edf8b2"/><rect x="485.9" y="243" width="15.00" height="1" fill="#eef8b3"/><rect x="485.9" y="244" width="15.00" height="1" fill="#eff9b6"/><rect x="485.9" y="245" width="15.00" height="1" fill="#f0f9b7"/><rect x="485.9" y="246" width="15.00" height="1" fill="#f0f9b8"/><rect x="485.9" y="247" width="15.00" height="1" fill="#f1fabb"/><rect x="485.9" y="248" width="15.00" height="1" fill="#f2fabc"/><rect x="485.9" y="249" width="15.00" height="1" fill="#f3fabf"/><rect x="485.9" y="250" width="15.00" height="1" fill="#f4fbc0"/><rect x="485.9" y="251" width="15.00" height="1" fill="#f4fbc1"/><rect x="485.9" y="252" width="15.00" height="1" fill="#f5fbc4"/><rect x="485.9" y="253" width="15.00" height="1" fill="#f6fbc5"/><rect x="485.9" y="254" width="15.00" height="1" fill="#f7fcc7"/><rect x="485.9" y="255" width="15.00" height="1" fill="#f8fcc9"/><rect x="485.9" y="256" width="15.00" height="1" fill="#f8fcca"/><rect x="485.9" y="257" width="15.00" height="1" fill="#f9fdcc"/><rect x="485.9" y="258" width="15.00" height="1" fill="#fafdce"/><rect x="485.9" y="259" width="15.00" height="1" fill="#fbfdd0"/><rect x="485.9" y="260" width="15.00" height="1" fill="#fcfed1"/><rect x="485.9" y="261" width="15.00" height="1" fill="#fcfed3"/><rect x="485.9" y="262" width="15.00" height="1" fill="#fdfed5"/><rect x="485.9" y="263" width="15.00" height="1" fill="#feffd6"/><rect x="485.9" y="264" width="15.00" height="1" fill="#ffffd9"/></g>
<g font-size="8.6" fill="#222" stroke="#222" stroke-width="0.12">
<line x1="500.9" y1="90.60" x2="505.4" y2="90.60" stroke="#444" stroke-width="1"/>
<text x="510.3" y="93.60" textLength="20.4" lengthAdjust="spacingAndGlyphs">0.6</text>
<line x1="500.9" y1="120.80" x2="505.4" y2="120.80" stroke="#444" stroke-width="1"/>
<text x="510.3" y="123.80" textLength="20.4" lengthAdjust="spacingAndGlyphs">0.4</text>
<line x1="500.9" y1="151.00" x2="505.4" y2="151.00" stroke="#444" stroke-width="1"/>
<text x="510.3" y="154.00" textLength="20.4" lengthAdjust="spacingAndGlyphs">0.2</text>
<line x1="500.9" y1="181.20" x2="505.4" y2="181.20" stroke="#444" stroke-width="1"/>
<text x="510.3" y="184.20" textLength="20.4" lengthAdjust="spacingAndGlyphs">0.0</text>
<line x1="500.9" y1="211.40" x2="505.4" y2="211.40" stroke="#444" stroke-width="1"/>
<text x="511.3" y="214.40" textLength="31.2" lengthAdjust="spacingAndGlyphs">−0.2</text>
<line x1="500.9" y1="241.60" x2="505.4" y2="241.60" stroke="#444" stroke-width="1"/>
<text x="511.3" y="244.60" textLength="31.2" lengthAdjust="spacingAndGlyphs">−0.4</text>
</g>
<text x="495.8" y="71.6" font-size="16.5" font-weight="bold" fill="#111" textLength="6.4" lengthAdjust="spacingAndGlyphs">r</text>
<text x="501.7" y="74.5" font-size="9.6" font-weight="bold" fill="#111" textLength="22.2" lengthAdjust="spacingAndGlyphs">cross</text>
<line x1="485.5" y1="76.6" x2="537.3" y2="76.6" stroke="#6f9ad8" stroke-width="1.9"/>
</svg>
</body></html>
